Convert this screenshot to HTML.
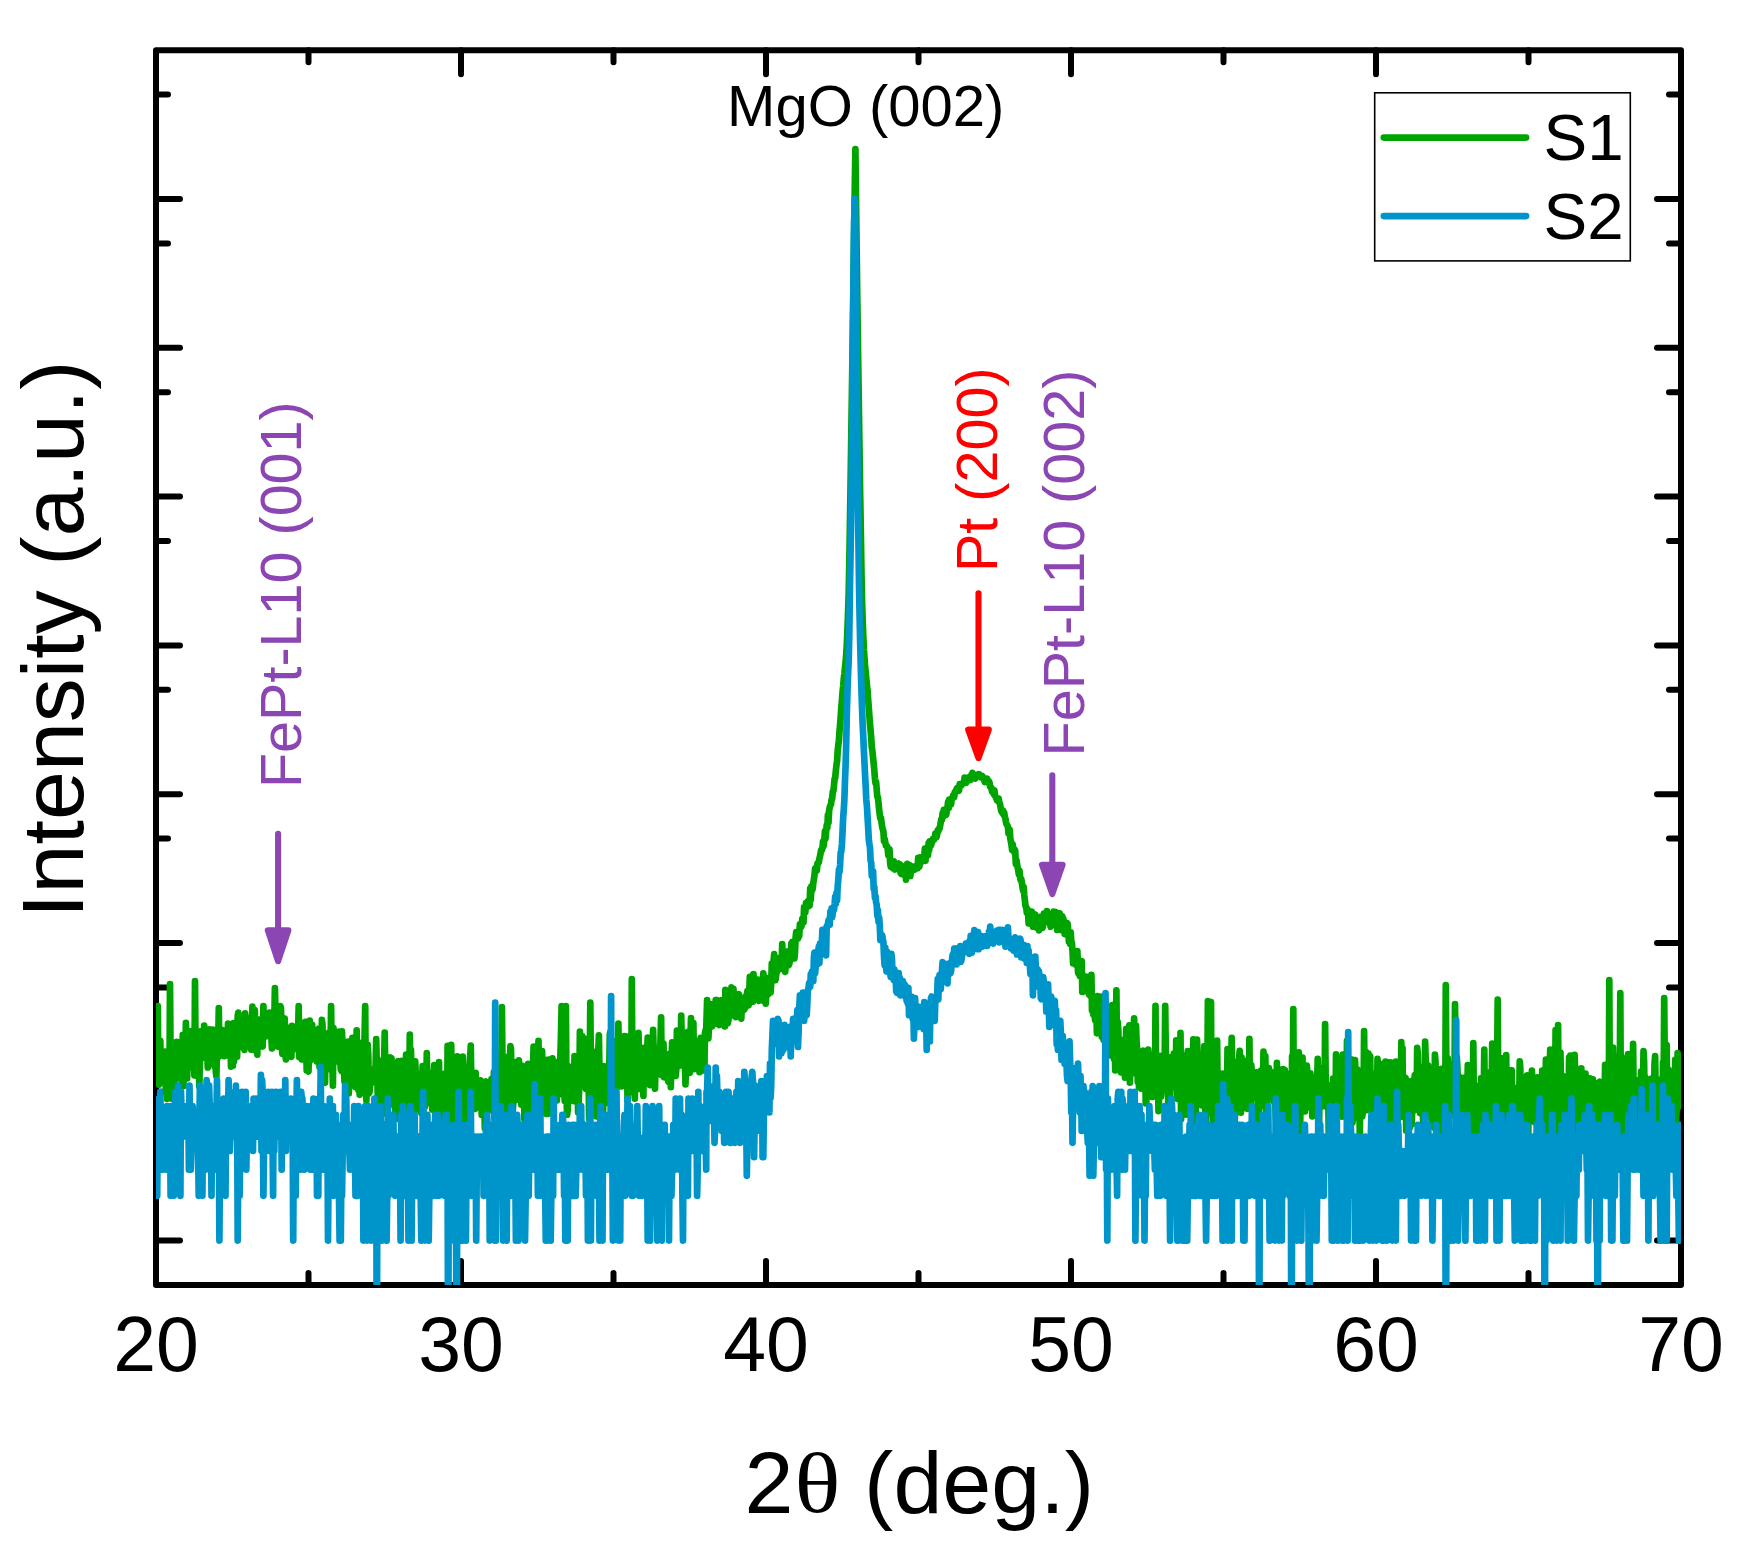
<!DOCTYPE html>
<html><head><meta charset="utf-8"><title>XRD</title>
<style>
html,body{margin:0;padding:0;background:#fff;}
svg{display:block;}
text{font-family:"Liberation Sans",sans-serif;}
.ser{font-family:"Liberation Serif",serif;}
</style></head><body>
<svg width="1754" height="1546" viewBox="0 0 1754 1546">
<rect width="1754" height="1546" fill="#fff"/>
<defs><clipPath id="cp"><rect x="156.0" y="50.2" width="1525.0" height="1234.8999999999999"/></clipPath></defs>

<g stroke="#000" stroke-width="6" stroke-linecap="round" stroke-linejoin="round" fill="none">
<rect x="156.0" y="50.2" width="1525.0" height="1234.8999999999999"/>
<path d="M308.5,1285.1 v-12 M308.5,50.2 v12"/>
<path d="M461.0,1285.1 v-24 M461.0,50.2 v24"/>
<path d="M613.5,1285.1 v-12 M613.5,50.2 v12"/>
<path d="M766.0,1285.1 v-24 M766.0,50.2 v24"/>
<path d="M918.5,1285.1 v-12 M918.5,50.2 v12"/>
<path d="M1071.0,1285.1 v-24 M1071.0,50.2 v24"/>
<path d="M1223.5,1285.1 v-12 M1223.5,50.2 v12"/>
<path d="M1376.0,1285.1 v-24 M1376.0,50.2 v24"/>
<path d="M1528.5,1285.1 v-12 M1528.5,50.2 v12"/>
<path d="M156.0,1240.6 h24 M1681.0,1240.6 h-24"/>
<path d="M156.0,1136.2 h12 M1681.0,1136.2 h-12"/>
<path d="M156.0,1091.8 h24 M1681.0,1091.8 h-24"/>
<path d="M156.0,987.4 h12 M1681.0,987.4 h-12"/>
<path d="M156.0,943.0 h24 M1681.0,943.0 h-24"/>
<path d="M156.0,838.6 h12 M1681.0,838.6 h-12"/>
<path d="M156.0,794.2 h24 M1681.0,794.2 h-24"/>
<path d="M156.0,689.8 h12 M1681.0,689.8 h-12"/>
<path d="M156.0,645.4 h24 M1681.0,645.4 h-24"/>
<path d="M156.0,541.0 h12 M1681.0,541.0 h-12"/>
<path d="M156.0,496.6 h24 M1681.0,496.6 h-24"/>
<path d="M156.0,392.2 h12 M1681.0,392.2 h-12"/>
<path d="M156.0,347.8 h24 M1681.0,347.8 h-24"/>
<path d="M156.0,243.4 h12 M1681.0,243.4 h-12"/>
<path d="M156.0,199.0 h24 M1681.0,199.0 h-24"/>
<path d="M156.0,94.6 h12 M1681.0,94.6 h-12"/>
</g>
<g clip-path="url(#cp)" fill="none" stroke-width="6.7" stroke-linejoin="round" stroke-linecap="round">
<path stroke="#00a400" d="M156.0,1067.0 156.6,1061.2 157.2,1071.8 157.8,1006.0 158.4,1074.9 159.0,1084.7 159.7,1064.9 160.3,1040.8 160.9,1074.8 161.5,1077.0 162.1,1056.2 162.7,1058.5 163.3,1063.0 163.9,1082.0 164.5,1065.1 165.1,1051.6 165.8,1089.1 166.4,1072.5 167.0,1098.9 167.6,1087.4 168.2,1097.3 168.8,1067.7 169.4,1086.4 170.0,984.1 170.6,1059.9 171.2,1066.0 171.9,1098.8 172.5,1072.0 173.1,1062.9 173.7,1059.8 174.3,1089.3 174.9,1070.1 175.5,1078.9 176.1,1075.6 176.7,1041.8 177.3,1075.2 178.0,1061.1 178.6,1044.5 179.2,1070.5 179.8,1061.9 180.4,1057.7 181.0,1058.4 181.6,1081.1 182.2,1057.8 182.8,1034.9 183.4,1086.1 184.1,1043.3 184.7,1056.2 185.3,1069.4 185.9,1022.8 186.5,1044.3 187.1,1078.5 187.7,1056.0 188.3,1047.0 188.9,1060.1 189.5,1044.8 190.2,1057.6 190.8,1044.6 191.4,1031.1 192.0,1067.5 192.6,1052.1 193.2,1063.3 193.8,1053.0 194.4,1075.3 195.0,981.1 195.6,1057.8 196.3,1038.9 196.9,1034.5 197.5,1076.3 198.1,1067.1 198.7,1042.4 199.3,1086.8 199.9,1060.7 200.5,1054.3 201.1,1031.2 201.7,1040.5 202.4,1057.3 203.0,1057.7 203.6,1055.5 204.2,1025.6 204.8,1057.8 205.4,1055.5 206.0,1044.3 206.6,1051.8 207.2,1052.8 207.8,1067.5 208.5,1049.1 209.1,1055.8 209.7,1029.3 210.3,1037.3 210.9,1048.0 211.5,1036.5 212.1,1052.5 212.7,1029.7 213.3,1046.4 213.9,1036.7 214.6,1066.3 215.2,1039.8 215.8,1071.9 216.4,1076.4 217.0,1049.2 217.6,1058.2 218.2,1041.1 218.8,1008.1 219.4,1056.0 220.0,1052.4 220.7,1039.1 221.3,1034.3 221.9,1044.4 222.5,1044.5 223.1,1030.2 223.7,1032.7 224.3,1056.2 224.9,1041.2 225.5,1039.2 226.1,1055.4 226.8,1035.1 227.4,1051.7 228.0,1023.7 228.6,1035.2 229.2,1036.5 229.8,1046.4 230.4,1039.0 231.0,1066.7 231.6,1053.4 232.2,1030.9 232.9,1065.7 233.5,1023.2 234.1,1061.2 234.7,1024.0 235.3,1047.3 235.9,1023.2 236.5,1032.5 237.1,1056.6 237.7,1015.7 238.3,1012.6 239.0,1034.4 239.6,1037.1 240.2,1035.3 240.8,1046.8 241.4,1016.7 242.0,1040.1 242.6,1032.8 243.2,1043.3 243.8,1040.7 244.4,1049.9 245.1,1013.4 245.7,1033.4 246.3,1017.3 246.9,1030.7 247.5,1040.7 248.1,1035.3 248.7,1038.5 249.3,1030.3 249.9,1035.7 250.5,1034.5 251.2,1049.7 251.8,1041.5 252.4,1006.6 253.0,1039.5 253.6,1044.9 254.2,1025.1 254.8,1010.0 255.4,1050.4 256.0,1032.7 256.6,1038.7 257.3,1054.6 257.9,1019.3 258.5,1029.9 259.1,1028.6 259.7,1040.2 260.3,1023.1 260.9,1037.1 261.5,1031.4 262.1,1045.0 262.7,1046.5 263.4,1006.0 264.0,1036.4 264.6,1025.2 265.2,1029.7 265.8,1035.4 266.4,1036.3 267.0,1020.3 267.6,1033.4 268.2,1031.2 268.8,1028.8 269.5,1012.5 270.1,1019.5 270.7,1023.7 271.3,1037.0 271.9,1048.4 272.5,1015.7 273.1,1015.4 273.7,1031.0 274.3,1021.4 274.9,988.1 275.6,1017.3 276.2,1016.1 276.8,1035.5 277.4,1007.8 278.0,1046.7 278.6,1017.1 279.2,1022.4 279.8,1017.1 280.4,1006.0 281.0,1008.7 281.7,1045.9 282.3,1053.8 282.9,1018.5 283.5,1044.6 284.1,1030.5 284.7,1018.6 285.3,1054.1 285.9,1059.4 286.5,1027.4 287.1,1030.7 287.8,1035.1 288.4,1031.2 289.0,1044.4 289.6,1054.0 290.2,1034.9 290.8,1046.8 291.4,1056.8 292.0,1025.9 292.6,1034.4 293.2,1027.8 293.9,1048.4 294.5,1043.9 295.1,1049.2 295.7,1047.8 296.3,1032.2 296.9,1046.9 297.5,1030.4 298.1,1030.9 298.7,1006.2 299.3,1057.2 300.0,1023.6 300.6,1038.4 301.2,1037.6 301.8,1059.4 302.4,1044.9 303.0,1027.0 303.6,1039.7 304.2,1037.5 304.8,1043.5 305.4,1021.8 306.1,1039.9 306.7,1070.4 307.3,1050.7 307.9,1070.6 308.5,1071.4 309.1,1049.1 309.7,1020.6 310.3,1040.8 310.9,1060.0 311.5,1056.8 312.2,1024.8 312.8,1040.3 313.4,1042.3 314.0,1044.2 314.6,1043.1 315.2,1031.3 315.8,1035.7 316.4,1041.3 317.0,1061.7 317.6,1037.3 318.3,1056.7 318.9,1028.6 319.5,1066.9 320.1,1049.1 320.7,1047.3 321.3,1069.1 321.9,1019.9 322.5,1024.5 323.1,1056.3 323.7,1036.4 324.4,1043.2 325.0,1082.8 325.6,1046.0 326.2,1051.6 326.8,1049.5 327.4,1069.3 328.0,1056.2 328.6,1055.0 329.2,1032.4 329.8,1047.1 330.5,1053.3 331.1,1006.0 331.7,1063.4 332.3,1060.9 332.9,1085.7 333.5,1028.1 334.1,1038.8 334.7,1039.9 335.3,1044.5 335.9,1054.5 336.6,1053.0 337.2,1061.5 337.8,1061.0 338.4,1056.9 339.0,1031.6 339.6,1048.7 340.2,1059.9 340.8,1069.5 341.4,1070.9 342.0,1031.4 342.7,1051.3 343.3,1059.5 343.9,1067.3 344.5,1081.5 345.1,1063.0 345.7,1046.3 346.3,1069.7 346.9,1067.1 347.5,1067.4 348.1,1041.7 348.8,1093.5 349.4,1068.8 350.0,1080.7 350.6,1048.8 351.2,1080.0 351.8,1055.2 352.4,1037.8 353.0,1072.6 353.6,1078.5 354.2,1063.9 354.9,1067.9 355.5,1087.1 356.1,1059.8 356.7,1030.4 357.3,1074.2 357.9,1073.5 358.5,1090.1 359.1,1064.1 359.7,1094.8 360.3,1092.5 361.0,1046.3 361.6,1089.3 362.2,1050.7 362.8,1042.3 363.4,1067.4 364.0,1061.9 364.6,1034.5 365.2,1006.1 365.8,1085.4 366.4,1100.7 367.1,1073.3 367.7,1044.8 368.3,1055.4 368.9,1093.6 369.5,1092.1 370.1,1085.3 370.7,1069.5 371.3,1079.7 371.9,1071.5 372.5,1070.0 373.2,1082.2 373.8,1077.2 374.4,1072.4 375.0,1078.5 375.6,1066.7 376.2,1039.0 376.8,1065.2 377.4,1076.4 378.0,1112.2 378.6,1069.9 379.3,1118.0 379.9,1107.2 380.5,1060.8 381.1,1064.0 381.7,1081.8 382.3,1114.2 382.9,1086.7 383.5,1093.2 384.1,1066.1 384.7,1032.6 385.4,1075.1 386.0,1096.0 386.6,1104.3 387.2,1081.2 387.8,1083.9 388.4,1104.4 389.0,1078.0 389.6,1104.7 390.2,1057.4 390.8,1058.6 391.5,1058.2 392.1,1091.1 392.7,1070.4 393.3,1084.2 393.9,1089.7 394.5,1088.8 395.1,1109.2 395.7,1112.4 396.3,1065.1 396.9,1086.1 397.6,1077.6 398.2,1061.0 398.8,1119.1 399.4,1099.1 400.0,1078.8 400.6,1074.3 401.2,1090.8 401.8,1060.9 402.4,1078.4 403.0,1108.9 403.7,1103.0 404.3,1066.0 404.9,1073.3 405.5,1124.0 406.1,1054.6 406.7,1070.7 407.3,1054.8 407.9,1091.9 408.5,1090.1 409.1,1108.0 409.8,1034.5 410.4,1087.8 411.0,1049.9 411.6,1098.1 412.2,1080.7 412.8,1120.3 413.4,1092.6 414.0,1063.2 414.6,1111.5 415.2,1061.4 415.9,1077.4 416.5,1107.3 417.1,1095.6 417.7,1094.8 418.3,1086.0 418.9,1096.6 419.5,1103.0 420.1,1091.7 420.7,1107.4 421.3,1113.2 422.0,1086.3 422.6,1066.2 423.2,1118.6 423.8,1085.4 424.4,1099.6 425.0,1106.8 425.6,1067.0 426.2,1096.9 426.8,1053.1 427.4,1102.7 428.1,1077.3 428.7,1090.8 429.3,1102.3 429.9,1073.1 430.5,1089.3 431.1,1072.8 431.7,1087.0 432.3,1109.7 432.9,1088.3 433.5,1084.9 434.2,1065.2 434.8,1105.9 435.4,1087.0 436.0,1123.8 436.6,1072.0 437.2,1109.9 437.8,1125.8 438.4,1087.6 439.0,1062.1 439.6,1119.7 440.3,1110.2 440.9,1102.7 441.5,1111.2 442.1,1078.2 442.7,1104.2 443.3,1102.3 443.9,1073.8 444.5,1103.1 445.1,1077.1 445.7,1107.9 446.4,1113.2 447.0,1126.9 447.6,1045.8 448.2,1093.7 448.8,1081.4 449.4,1087.4 450.0,1083.3 450.6,1085.7 451.2,1044.9 451.8,1109.6 452.5,1121.1 453.1,1109.1 453.7,1116.2 454.3,1070.5 454.9,1068.9 455.5,1108.0 456.1,1117.5 456.7,1094.7 457.3,1056.4 457.9,1130.9 458.6,1075.4 459.2,1110.6 459.8,1064.1 460.4,1110.7 461.0,1093.3 461.6,1120.1 462.2,1108.5 462.8,1056.5 463.4,1068.9 464.0,1095.8 464.7,1106.1 465.3,1128.6 465.9,1095.6 466.5,1087.6 467.1,1088.8 467.7,1088.9 468.3,1111.5 468.9,1088.3 469.5,1087.6 470.1,1058.4 470.8,1045.7 471.4,1089.6 472.0,1103.4 472.6,1087.9 473.2,1099.7 473.8,1102.6 474.4,1087.6 475.0,1109.0 475.6,1072.9 476.2,1088.3 476.9,1080.5 477.5,1089.9 478.1,1101.7 478.7,1106.4 479.3,1090.9 479.9,1097.6 480.5,1080.4 481.1,1085.5 481.7,1115.0 482.3,1083.8 483.0,1114.3 483.6,1098.5 484.2,1091.4 484.8,1128.3 485.4,1082.9 486.0,1081.6 486.6,1088.2 487.2,1093.8 487.8,1092.7 488.4,1105.6 489.1,1090.3 489.7,1096.3 490.3,1082.4 490.9,1110.2 491.5,1079.2 492.1,1081.1 492.7,1087.2 493.3,1093.5 493.9,1072.2 494.5,1119.8 495.2,1074.1 495.8,1078.7 496.4,1077.8 497.0,1075.7 497.6,1097.9 498.2,1089.4 498.8,1070.2 499.4,1074.6 500.0,1079.4 500.6,1116.3 501.3,1072.2 501.9,1007.1 502.5,1062.1 503.1,1078.7 503.7,1117.1 504.3,1063.4 504.9,1086.8 505.5,1126.5 506.1,1075.5 506.7,1115.5 507.4,1111.3 508.0,1097.1 508.6,1056.3 509.2,1091.5 509.8,1077.7 510.4,1046.1 511.0,1049.3 511.6,1085.7 512.2,1088.6 512.8,1110.4 513.5,1098.3 514.1,1074.3 514.7,1074.9 515.3,1081.0 515.9,1062.1 516.5,1099.8 517.1,1084.5 517.7,1067.7 518.3,1070.8 518.9,1060.4 519.6,1074.7 520.2,1089.8 520.8,1075.5 521.4,1104.6 522.0,1065.5 522.6,1070.7 523.2,1084.3 523.8,1076.5 524.4,1119.3 525.0,1090.8 525.7,1095.8 526.3,1101.4 526.9,1125.6 527.5,1090.1 528.1,1063.8 528.7,1074.8 529.3,1095.7 529.9,1083.1 530.5,1066.7 531.1,1125.3 531.8,1085.4 532.4,1071.1 533.0,1068.1 533.6,1046.5 534.2,1058.5 534.8,1075.9 535.4,1076.1 536.0,1065.8 536.6,1093.9 537.2,1083.3 537.9,1063.1 538.5,1040.8 539.1,1085.7 539.7,1083.3 540.3,1078.0 540.9,1053.7 541.5,1082.8 542.1,1051.0 542.7,1102.5 543.3,1086.0 544.0,1086.2 544.6,1065.3 545.2,1059.8 545.8,1113.8 546.4,1101.2 547.0,1074.7 547.6,1095.6 548.2,1113.8 548.8,1059.7 549.4,1071.2 550.1,1071.2 550.7,1091.5 551.3,1059.8 551.9,1086.5 552.5,1058.3 553.1,1100.5 553.7,1099.3 554.3,1076.9 554.9,1096.0 555.5,1067.0 556.2,1075.6 556.8,1100.5 557.4,1079.5 558.0,1088.3 558.6,1061.7 559.2,1094.2 559.8,1090.0 560.4,1055.4 561.0,1033.8 561.6,1006.0 562.3,1079.3 562.9,1076.0 563.5,1048.5 564.1,1083.1 564.7,1100.9 565.3,1078.0 565.9,1006.0 566.5,1097.7 567.1,1114.7 567.7,1110.2 568.4,1066.3 569.0,1096.0 569.6,1083.1 570.2,1075.6 570.8,1067.1 571.4,1086.9 572.0,1069.5 572.6,1098.4 573.2,1087.3 573.8,1101.1 574.5,1056.2 575.1,1080.2 575.7,1094.9 576.3,1086.9 576.9,1084.1 577.5,1064.9 578.1,1112.4 578.7,1100.8 579.3,1087.1 579.9,1031.5 580.6,1059.3 581.2,1081.3 581.8,1064.2 582.4,1036.4 583.0,1083.6 583.6,1086.3 584.2,1053.7 584.8,1068.4 585.4,1064.7 586.0,1088.9 586.7,1038.8 587.3,1043.1 587.9,1066.5 588.5,1064.0 589.1,1119.0 589.7,1064.8 590.3,1002.7 590.9,1068.8 591.5,1063.5 592.1,1084.3 592.8,1111.6 593.4,1069.5 594.0,1091.9 594.6,1083.3 595.2,1088.7 595.8,1083.1 596.4,1116.4 597.0,1051.2 597.6,1070.4 598.2,1052.9 598.9,1035.3 599.5,1074.3 600.1,1110.5 600.7,1092.1 601.3,1098.0 601.9,1083.7 602.5,1071.8 603.1,1112.7 603.7,1066.1 604.3,1102.3 605.0,1066.4 605.6,1074.1 606.2,1077.8 606.8,1072.8 607.4,1081.6 608.0,1082.7 608.6,1103.1 609.2,1070.8 609.8,1034.4 610.4,1031.6 611.1,1044.0 611.7,1055.6 612.3,1081.8 612.9,1041.1 613.5,1069.4 614.1,1069.4 614.7,1073.4 615.3,1065.8 615.9,1075.6 616.5,1068.7 617.2,1087.3 617.8,1073.7 618.4,1023.7 619.0,1067.6 619.6,1070.6 620.2,1056.0 620.8,1052.6 621.4,1086.4 622.0,1069.3 622.6,1048.2 623.3,1060.1 623.9,1062.7 624.5,1036.0 625.1,1077.2 625.7,1062.9 626.3,1073.9 626.9,1036.7 627.5,1100.0 628.1,1076.2 628.7,1073.4 629.4,1051.4 630.0,1052.3 630.6,1037.7 631.2,1091.9 631.8,979.1 632.4,1068.2 633.0,1074.8 633.6,1052.7 634.2,1079.2 634.8,1098.6 635.5,1068.9 636.1,1089.2 636.7,1073.7 637.3,1055.0 637.9,1056.0 638.5,1032.8 639.1,1065.0 639.7,1088.9 640.3,1074.8 640.9,1077.6 641.6,1082.8 642.2,1053.0 642.8,1072.2 643.4,1096.0 644.0,1047.9 644.6,1062.3 645.2,1053.8 645.8,1058.2 646.4,1048.7 647.0,1059.2 647.7,1037.7 648.3,1052.1 648.9,1052.6 649.5,1052.1 650.1,1085.2 650.7,1062.1 651.3,1063.7 651.9,1055.3 652.5,1083.0 653.1,1029.9 653.8,1056.9 654.4,1080.0 655.0,1088.7 655.6,1063.4 656.2,1059.9 656.8,1070.9 657.4,1056.5 658.0,1069.3 658.6,1048.3 659.2,1070.6 659.9,1058.5 660.5,1040.5 661.1,1017.3 661.7,1075.2 662.3,1065.6 662.9,1072.1 663.5,1043.6 664.1,1077.3 664.7,1065.6 665.3,1057.6 666.0,1074.0 666.6,1073.6 667.2,1065.1 667.8,1075.6 668.4,1081.8 669.0,1063.7 669.6,1053.9 670.2,1059.6 670.8,1087.1 671.4,1064.3 672.1,1042.3 672.7,1046.5 673.3,1057.4 673.9,1071.3 674.5,1045.0 675.1,1065.8 675.7,1075.9 676.3,1069.5 676.9,1030.6 677.5,1051.7 678.2,1035.5 678.8,1063.6 679.4,1039.1 680.0,1065.6 680.6,1057.9 681.2,1015.5 681.8,1041.8 682.4,1063.5 683.0,1056.3 683.6,1049.2 684.3,1034.0 684.9,1063.0 685.5,1084.4 686.1,1059.3 686.7,1054.1 687.3,1052.5 687.9,1031.8 688.5,1034.2 689.1,1040.2 689.7,1072.8 690.4,1039.2 691.0,1018.2 691.6,1040.7 692.2,1049.4 692.8,1051.0 693.4,1023.2 694.0,1069.2 694.6,1055.3 695.2,1045.5 695.8,1040.7 696.5,1060.6 697.1,1047.9 697.7,1057.8 698.3,1050.9 698.9,1055.1 699.5,1072.1 700.1,1053.1 700.7,1037.9 701.3,1068.9 701.9,1056.6 702.6,1041.3 703.2,1070.4 703.8,1049.3 704.4,1070.1 705.0,1033.1 705.6,1030.0 706.2,1030.0 706.5,1020.5 707.1,1000.0 707.7,1012.9 708.4,1038.3 709.0,1025.4 709.6,1007.6 710.2,1014.9 710.8,1020.9 711.4,1004.3 712.0,1026.3 712.6,1011.1 713.2,1019.5 713.8,1023.0 714.5,1008.1 715.1,1023.9 715.7,1000.0 716.3,1018.6 716.9,1000.0 717.5,1023.4 718.1,1004.5 718.7,1023.8 719.3,1025.0 719.9,1008.3 720.6,1002.4 721.2,1023.1 721.8,1000.0 722.4,1017.2 723.0,1006.9 723.6,1003.9 724.2,1001.3 724.8,1026.4 725.4,989.8 726.0,1000.7 726.7,1010.7 727.3,1016.7 727.9,1023.3 728.5,1019.5 729.1,999.2 729.7,1008.1 730.3,1016.0 730.9,1009.4 731.5,987.4 732.1,989.5 732.8,1008.9 733.4,988.8 734.0,997.6 734.6,1001.5 735.2,1007.8 735.8,1017.1 736.4,1012.9 737.0,1005.6 737.6,1002.6 738.2,996.5 738.9,994.3 739.5,997.3 740.1,997.1 740.7,1009.0 741.3,1018.6 741.9,1003.6 742.5,1007.6 743.1,1004.3 743.7,1000.3 744.3,1009.6 745.0,1008.0 745.6,997.8 746.2,995.4 746.8,1002.7 747.4,991.2 748.0,997.9 748.6,1005.4 749.2,994.9 749.8,976.8 750.4,1001.3 751.1,983.3 751.7,981.0 752.3,979.6 752.9,1001.6 753.5,974.2 754.1,992.1 754.7,995.3 755.3,994.9 755.9,986.7 756.5,991.6 757.2,993.5 757.8,979.5 758.4,998.1 759.0,1000.8 759.6,983.3 760.2,984.0 760.8,980.1 761.4,1000.1 762.0,980.0 762.6,985.4 763.3,973.4 763.9,1001.1 764.5,987.4 765.1,991.8 765.7,1003.7 766.3,995.4 766.9,978.2 767.5,992.5 768.1,994.4 768.7,979.4 769.4,977.9 770.0,977.3 770.6,992.6 771.2,984.1 771.8,963.5 772.4,974.4 773.0,974.0 773.6,960.7 774.2,954.2 774.8,974.4 775.5,980.2 776.1,975.4 776.7,971.5 777.3,964.5 777.9,958.4 778.5,963.8 779.1,967.7 779.7,961.1 780.3,969.2 780.9,962.1 781.6,966.3 782.2,944.2 782.8,955.0 783.4,967.0 784.0,967.9 784.6,963.3 785.2,971.8 785.8,964.5 786.4,964.0 787.0,951.5 787.7,960.3 788.3,962.1 788.9,965.1 789.5,962.9 790.1,954.1 790.7,954.1 791.3,943.6 791.9,954.6 792.5,941.9 793.1,946.1 793.8,946.6 794.4,958.4 795.0,952.3 795.6,937.7 796.2,932.1 796.8,938.2 797.4,933.2 798.0,938.6 798.6,936.4 799.2,936.1 799.9,924.3 800.5,925.9 801.1,927.1 801.7,925.5 802.3,918.6 802.9,918.0 803.5,922.3 804.1,907.1 804.7,913.0 805.3,912.4 806.0,903.1 806.6,903.4 807.2,906.6 807.8,901.3 808.4,906.5 809.0,902.0 809.6,905.6 810.2,888.7 810.8,899.9 811.4,886.4 812.1,890.4 812.7,888.6 813.3,883.0 813.9,878.9 814.5,875.2 815.1,868.5 815.7,871.6 816.3,867.3 816.9,870.4 817.5,863.3 818.2,862.8 818.8,862.5 819.4,858.8 820.0,856.3 820.6,853.0 821.2,849.9 821.8,850.3 822.4,848.5 823.0,841.5 823.6,846.1 824.3,840.2 824.9,831.4 825.5,838.4 826.1,831.9 826.7,825.2 827.3,828.2 827.9,815.1 828.5,822.5 829.1,810.9 829.7,807.3 830.4,805.4 831.0,804.4 831.6,799.5 832.2,798.5 832.8,791.3 833.4,791.2 834.0,785.5 834.6,778.7 835.2,777.9 835.8,771.4 836.5,764.8 837.1,761.0 837.7,750.6 838.3,745.2 838.9,740.7 839.5,731.3 840.1,724.5 840.7,716.4 841.3,707.7 841.9,700.7 842.6,691.6 843.2,686.1 843.8,678.5 844.4,673.8 845.0,667.5 845.6,662.2 846.2,654.5 846.8,645.2 847.4,631.1 848.0,614.3 848.7,593.2 849.3,563.3 849.9,526.4 850.5,488.5 851.1,448.0 851.7,406.4 852.3,366.1 852.9,326.0 853.5,282.7 854.1,235.3 854.8,186.4 855.4,149.0 856.0,198.1 856.6,245.5 857.2,292.4 857.8,334.8 858.4,374.7 859.0,415.3 859.6,456.4 860.2,496.8 860.9,536.6 861.5,575.1 862.1,602.3 862.7,621.5 863.3,636.5 863.9,649.5 864.5,657.9 865.1,666.7 865.7,672.1 866.3,678.5 867.0,685.6 867.6,691.1 868.2,700.2 868.8,707.9 869.4,716.2 870.0,724.4 870.6,730.5 871.2,737.5 871.8,747.7 872.4,751.0 873.1,758.2 873.7,763.6 874.3,770.1 874.9,778.3 875.5,783.1 876.1,782.0 876.7,789.3 877.3,796.8 877.9,797.2 878.5,802.8 879.2,810.2 879.8,814.9 880.4,818.4 881.0,818.1 881.6,822.9 882.2,827.2 882.8,829.2 883.4,831.3 884.0,841.1 884.6,838.7 885.3,842.3 885.9,845.6 886.5,845.6 887.1,846.3 887.7,848.9 888.3,855.2 888.9,854.9 889.5,849.4 890.1,862.2 890.7,866.6 891.4,861.6 892.0,861.4 892.6,862.4 893.2,868.4 893.8,861.3 894.4,868.0 895.0,869.5 895.6,867.9 896.2,866.4 896.8,863.7 897.5,864.2 898.1,866.7 898.7,863.5 899.3,866.8 899.9,864.2 900.5,872.8 901.1,873.8 901.7,865.8 902.3,874.2 902.9,870.8 903.6,870.6 904.2,872.6 904.8,873.0 905.4,866.6 906.0,879.6 906.6,869.1 907.2,863.9 907.8,872.4 908.4,872.4 909.0,869.4 909.7,865.1 910.3,876.0 910.9,870.8 911.5,871.4 912.1,868.1 912.7,869.0 913.3,866.6 913.9,869.9 914.5,867.5 915.1,869.4 915.8,868.7 916.4,866.1 917.0,865.3 917.6,868.2 918.2,857.9 918.8,863.1 919.4,866.7 920.0,857.4 920.6,863.1 921.2,858.1 921.9,859.1 922.5,857.5 923.1,857.0 923.7,858.7 924.3,855.8 924.9,848.5 925.5,860.8 926.1,853.2 926.7,851.2 927.3,855.0 928.0,855.0 928.6,843.0 929.2,849.9 929.8,841.3 930.4,845.1 931.0,845.5 931.6,843.2 932.2,841.6 932.8,838.9 933.4,840.0 934.1,839.7 934.7,838.3 935.3,833.6 935.9,833.7 936.5,837.3 937.1,834.7 937.7,830.4 938.3,831.3 938.9,829.0 939.5,828.8 940.2,825.3 940.8,821.9 941.4,818.9 942.0,819.8 942.6,813.2 943.2,817.0 943.8,809.9 944.4,811.7 945.0,811.6 945.6,812.6 946.3,814.7 946.9,809.1 947.5,807.1 948.1,801.9 948.7,808.0 949.3,799.5 949.9,803.0 950.5,799.7 951.1,804.4 951.7,798.7 952.4,798.7 953.0,795.5 953.6,795.7 954.2,797.2 954.8,792.0 955.4,791.5 956.0,790.8 956.6,789.0 957.2,787.9 957.8,789.3 958.5,791.0 959.1,790.2 959.7,784.1 960.3,784.5 960.9,784.9 961.5,785.2 962.1,783.6 962.7,783.0 963.3,783.1 963.9,783.3 964.6,777.5 965.2,780.6 965.8,781.7 966.4,782.5 967.0,781.0 967.6,778.0 968.2,777.6 968.8,779.0 969.4,778.2 970.0,778.6 970.7,779.8 971.3,775.2 971.9,776.6 972.5,772.9 973.1,778.1 973.7,776.8 974.3,774.8 974.9,776.6 975.5,778.5 976.1,777.6 976.8,775.6 977.4,775.2 978.0,776.0 978.6,774.1 979.2,774.3 979.8,775.7 980.4,776.5 981.0,777.3 981.6,776.2 982.2,775.9 982.9,777.9 983.5,777.6 984.1,779.5 984.7,782.0 985.3,781.8 985.9,779.1 986.5,780.3 987.1,778.7 987.7,782.1 988.3,781.3 989.0,781.3 989.6,782.9 990.2,787.0 990.8,787.4 991.4,787.9 992.0,791.4 992.6,789.7 993.2,789.9 993.8,794.1 994.4,790.2 995.1,796.0 995.7,796.9 996.3,798.1 996.9,800.2 997.5,799.0 998.1,801.0 998.7,798.6 999.3,802.2 999.9,803.6 1000.5,806.7 1001.2,810.9 1001.8,809.5 1002.4,812.9 1003.0,810.5 1003.6,814.6 1004.2,812.5 1004.8,816.7 1005.4,818.5 1006.0,822.1 1006.6,824.3 1007.3,825.3 1007.9,826.8 1008.5,833.5 1009.1,832.4 1009.7,829.6 1010.3,838.7 1010.9,841.4 1011.5,845.1 1012.1,849.8 1012.7,844.2 1013.4,850.2 1014.0,852.0 1014.6,849.5 1015.2,850.5 1015.8,863.9 1016.4,859.8 1017.0,863.9 1017.6,867.4 1018.2,869.7 1018.8,874.2 1019.5,870.5 1020.1,876.8 1020.7,880.3 1021.3,879.0 1021.9,882.9 1022.5,887.3 1023.1,890.6 1023.7,886.9 1024.3,895.1 1024.9,900.5 1025.6,906.7 1026.2,906.8 1026.8,912.6 1027.4,909.0 1028.0,910.1 1028.6,923.4 1029.2,914.4 1029.8,912.2 1030.4,915.7 1031.0,922.7 1031.7,911.7 1032.3,923.1 1032.9,926.7 1033.5,926.4 1034.1,921.0 1034.7,915.6 1035.3,914.6 1035.9,919.8 1036.5,927.4 1037.1,924.4 1037.8,925.7 1038.4,921.7 1039.0,930.3 1039.6,920.0 1040.2,917.0 1040.8,921.2 1041.4,917.8 1042.0,925.2 1042.6,927.9 1043.2,923.4 1043.9,913.6 1044.5,914.2 1045.1,922.1 1045.7,913.0 1046.3,921.2 1046.9,911.2 1047.5,916.7 1048.1,921.6 1048.7,914.9 1049.3,923.2 1050.0,924.1 1050.6,926.8 1051.2,917.6 1051.8,919.3 1052.4,919.5 1053.0,921.3 1053.6,911.5 1054.2,921.6 1054.8,923.4 1055.4,913.0 1056.1,912.3 1056.7,918.4 1057.3,930.0 1057.9,924.1 1058.5,917.8 1059.1,921.4 1059.7,913.4 1060.3,929.9 1060.9,919.0 1061.5,926.7 1062.2,916.3 1062.8,924.6 1063.4,918.9 1064.0,928.9 1064.6,933.8 1065.2,932.8 1065.8,930.8 1066.4,934.5 1067.0,923.0 1067.6,923.7 1068.3,931.8 1068.9,941.7 1069.5,938.2 1070.1,943.9 1070.7,932.4 1071.3,941.8 1071.9,942.7 1072.5,950.6 1073.1,963.4 1073.7,956.9 1074.4,961.3 1075.0,952.7 1075.6,956.5 1076.2,965.0 1076.8,963.9 1077.4,951.1 1078.0,972.1 1078.6,973.8 1079.2,970.3 1079.8,975.9 1080.5,975.6 1081.1,969.4 1081.7,961.1 1082.3,992.0 1082.9,978.7 1083.5,979.7 1084.1,982.2 1084.7,984.5 1085.3,987.3 1085.9,976.6 1086.6,991.3 1087.2,989.6 1087.8,989.8 1088.4,990.2 1089.0,994.2 1089.6,984.5 1090.2,995.6 1090.8,995.4 1091.4,974.9 1092.0,1010.4 1092.7,1010.4 1093.3,1014.5 1093.9,1003.4 1094.5,1014.6 1095.1,1020.2 1095.7,1007.8 1096.3,1006.3 1096.9,1033.3 1097.5,996.1 1098.1,1016.3 1098.8,1019.2 1099.4,1006.9 1100.0,1019.7 1100.6,1028.9 1101.2,996.5 1101.8,1036.8 1102.4,1026.0 1103.0,1015.4 1103.6,1040.0 1104.2,1028.9 1104.9,1023.6 1105.5,1000.3 1106.1,1051.7 1106.7,1020.5 1107.3,1041.7 1107.9,1025.3 1108.5,1028.1 1109.1,1042.2 1109.7,1033.7 1110.3,1055.5 1111.0,1041.1 1111.6,1024.0 1112.2,1005.2 1112.8,1031.0 1113.4,1041.1 1114.0,1058.9 1114.6,1027.1 1115.2,1070.4 1115.8,1057.6 1116.4,990.3 1117.1,1065.3 1117.7,1021.9 1118.3,1029.5 1118.9,1056.8 1119.5,1057.2 1120.1,1070.2 1120.7,1072.2 1121.3,1042.5 1121.9,1040.0 1122.5,1045.0 1123.2,1046.9 1123.8,1061.2 1124.4,1046.3 1125.0,1077.6 1125.6,1053.2 1126.2,1028.8 1126.8,1031.8 1127.4,1062.7 1128.0,1061.0 1128.6,1032.0 1129.3,1025.3 1129.9,1082.7 1130.5,1064.6 1131.1,1053.5 1131.7,1036.7 1132.3,1073.3 1132.9,1047.6 1133.5,1064.7 1134.1,1018.3 1134.7,1052.6 1135.4,1063.1 1136.0,1025.7 1136.6,1042.5 1137.2,1049.6 1137.8,1081.9 1138.4,1058.8 1139.0,1087.5 1139.6,1077.3 1140.2,1087.6 1140.8,1088.6 1141.5,1077.2 1142.1,1083.0 1142.7,1055.4 1143.3,1050.7 1143.9,1070.3 1144.5,1087.1 1145.1,1051.4 1145.7,1103.4 1146.3,1103.5 1146.9,1053.7 1147.6,1055.4 1148.2,1049.6 1148.8,1072.5 1149.4,1092.7 1150.0,1078.7 1150.6,1058.4 1151.2,1084.3 1151.8,1083.3 1152.4,1097.0 1153.0,1092.9 1153.7,1054.4 1154.3,1062.2 1154.9,1093.8 1155.5,1005.8 1156.1,1082.7 1156.7,1061.3 1157.3,1095.2 1157.9,1075.9 1158.5,1111.1 1159.1,1097.8 1159.8,1065.0 1160.4,1055.8 1161.0,1096.7 1161.6,1089.4 1162.2,1058.4 1162.8,1082.3 1163.4,1085.6 1164.0,1064.6 1164.6,1071.3 1165.2,1005.8 1165.9,1059.7 1166.5,1087.5 1167.1,1078.5 1167.7,1077.6 1168.3,1104.0 1168.9,1096.5 1169.5,1057.3 1170.1,1109.5 1170.7,1057.2 1171.3,1071.8 1172.0,1080.7 1172.6,1067.1 1173.2,1068.5 1173.8,1053.7 1174.4,1086.9 1175.0,1083.6 1175.6,1084.2 1176.2,1040.4 1176.8,1059.9 1177.4,1098.9 1178.1,1086.9 1178.7,1094.8 1179.3,1080.1 1179.9,1076.1 1180.5,1032.8 1181.1,1119.1 1181.7,1059.6 1182.3,1072.2 1182.9,1096.3 1183.5,1084.9 1184.2,1092.4 1184.8,1081.0 1185.4,1061.0 1186.0,1114.6 1186.6,1054.8 1187.2,1090.8 1187.8,1051.1 1188.4,1074.4 1189.0,1057.1 1189.6,1071.5 1190.3,1060.5 1190.9,1082.7 1191.5,1101.9 1192.1,1069.8 1192.7,1069.1 1193.3,1039.4 1193.9,1126.9 1194.5,1089.1 1195.1,1062.0 1195.7,1112.2 1196.4,1090.2 1197.0,1039.5 1197.6,1054.8 1198.2,1104.7 1198.8,1054.8 1199.4,1060.1 1200.0,1069.1 1200.6,1077.8 1201.2,1081.0 1201.8,1105.3 1202.5,1097.7 1203.1,1070.5 1203.7,1083.5 1204.3,1046.2 1204.9,1094.1 1205.5,1130.0 1206.1,1094.3 1206.7,1081.0 1207.3,1078.8 1207.9,1001.1 1208.6,1105.4 1209.2,1054.5 1209.8,1102.1 1210.4,1071.9 1211.0,1002.1 1211.6,1114.1 1212.2,1056.6 1212.8,1131.4 1213.4,1106.8 1214.0,1078.5 1214.7,1096.0 1215.3,1071.6 1215.9,1090.4 1216.5,1098.3 1217.1,1040.5 1217.7,1093.3 1218.3,1092.0 1218.9,1112.6 1219.5,1105.3 1220.1,1074.3 1220.8,1076.2 1221.4,1088.8 1222.0,1104.5 1222.6,1073.7 1223.2,1127.0 1223.8,1096.7 1224.4,1094.8 1225.0,1108.1 1225.6,1085.8 1226.2,1104.2 1226.9,1107.3 1227.5,1049.1 1228.1,1072.9 1228.7,1050.3 1229.3,1088.4 1229.9,1068.0 1230.5,1072.2 1231.1,1062.5 1231.7,1037.9 1232.3,1094.9 1233.0,1084.0 1233.6,1091.1 1234.2,1134.6 1234.8,1121.4 1235.4,1089.6 1236.0,1075.8 1236.6,1103.1 1237.2,1064.6 1237.8,1061.3 1238.4,1099.6 1239.1,1058.2 1239.7,1050.8 1240.3,1079.9 1240.9,1112.6 1241.5,1057.3 1242.1,1094.2 1242.7,1099.1 1243.3,1088.0 1243.9,1102.8 1244.5,1066.4 1245.2,1073.1 1245.8,1063.1 1246.4,1060.6 1247.0,1108.8 1247.6,1094.5 1248.2,1071.1 1248.8,1100.2 1249.4,1038.8 1250.0,1096.5 1250.6,1104.4 1251.3,1065.0 1251.9,1074.2 1252.5,1091.8 1253.1,1096.5 1253.7,1081.6 1254.3,1072.3 1254.9,1074.0 1255.5,1098.3 1256.1,1081.6 1256.7,1072.3 1257.4,1074.1 1258.0,1137.2 1258.6,1111.9 1259.2,1109.3 1259.8,1096.9 1260.4,1087.6 1261.0,1070.7 1261.6,1077.7 1262.2,1094.7 1262.8,1091.3 1263.5,1051.7 1264.1,1106.0 1264.7,1085.0 1265.3,1056.2 1265.9,1084.1 1266.5,1137.9 1267.1,1083.5 1267.7,1101.0 1268.3,1094.8 1268.9,1068.1 1269.6,1081.5 1270.2,1098.3 1270.8,1071.9 1271.4,1082.4 1272.0,1090.0 1272.6,1085.5 1273.2,1086.7 1273.8,1100.3 1274.4,1103.1 1275.0,1092.0 1275.7,1114.5 1276.3,1121.6 1276.9,1062.8 1277.5,1098.2 1278.1,1093.3 1278.7,1095.9 1279.3,1092.3 1279.9,1092.3 1280.5,1091.4 1281.1,1111.5 1281.8,1071.5 1282.4,1108.9 1283.0,1069.2 1283.6,1137.3 1284.2,1117.6 1284.8,1070.2 1285.4,1096.6 1286.0,1108.7 1286.6,1084.6 1287.2,1117.4 1287.9,1091.5 1288.5,1139.5 1289.1,1103.8 1289.7,1108.4 1290.3,1080.9 1290.9,1073.2 1291.5,1113.2 1292.1,1056.3 1292.7,1107.2 1293.3,1009.1 1294.0,1139.9 1294.6,1058.0 1295.2,1095.7 1295.8,1108.7 1296.4,1111.0 1297.0,1119.0 1297.6,1062.4 1298.2,1095.7 1298.8,1052.3 1299.4,1098.4 1300.1,1140.2 1300.7,1074.3 1301.3,1102.4 1301.9,1099.4 1302.5,1057.6 1303.1,1100.1 1303.7,1067.0 1304.3,1094.1 1304.9,1111.5 1305.5,1082.3 1306.2,1108.0 1306.8,1065.6 1307.4,1071.8 1308.0,1092.7 1308.6,1080.0 1309.2,1081.1 1309.8,1100.6 1310.4,1073.4 1311.0,1099.5 1311.6,1079.9 1312.3,1116.4 1312.9,1091.9 1313.5,1084.6 1314.1,1112.7 1314.7,1104.0 1315.3,1106.7 1315.9,1077.3 1316.5,1111.1 1317.1,1084.1 1317.7,1058.8 1318.4,1086.0 1319.0,1131.9 1319.6,1091.4 1320.2,1070.1 1320.8,1101.0 1321.4,1068.5 1322.0,1079.9 1322.6,1084.5 1323.2,1100.4 1323.8,1106.2 1324.5,1100.3 1325.1,1024.1 1325.7,1082.1 1326.3,1084.5 1326.9,1101.3 1327.5,1092.7 1328.1,1085.2 1328.7,1132.1 1329.3,1112.1 1329.9,1112.9 1330.6,1099.0 1331.2,1100.6 1331.8,1100.2 1332.4,1114.5 1333.0,1078.5 1333.6,1087.7 1334.2,1132.4 1334.8,1093.8 1335.4,1120.4 1336.0,1054.4 1336.7,1104.7 1337.3,1103.3 1337.9,1092.1 1338.5,1098.7 1339.1,1095.4 1339.7,1058.0 1340.3,1088.8 1340.9,1074.6 1341.5,1067.7 1342.1,1116.7 1342.8,1054.6 1343.4,1077.9 1344.0,1071.7 1344.6,1114.0 1345.2,1074.9 1345.8,1084.3 1346.4,1106.4 1347.0,1040.8 1347.6,1080.7 1348.2,1099.4 1348.9,1089.3 1349.5,1072.6 1350.1,1067.5 1350.7,1080.3 1351.3,1065.5 1351.9,1059.6 1352.5,1122.5 1353.1,1105.0 1353.7,1101.5 1354.3,1091.4 1355.0,1060.1 1355.6,1078.5 1356.2,1118.0 1356.8,1100.5 1357.4,1069.7 1358.0,1106.0 1358.6,1095.9 1359.2,1086.5 1359.8,1135.9 1360.4,1075.5 1361.1,1085.6 1361.7,1080.3 1362.3,1116.3 1362.9,1111.3 1363.5,1107.4 1364.1,1031.1 1364.7,1091.8 1365.3,1090.5 1365.9,1051.9 1366.5,1063.1 1367.2,1110.1 1367.8,1108.6 1368.4,1053.6 1369.0,1100.7 1369.6,1061.4 1370.2,1056.3 1370.8,1105.9 1371.4,1099.6 1372.0,1091.4 1372.6,1113.3 1373.3,1116.0 1373.9,1102.6 1374.5,1073.5 1375.1,1103.7 1375.7,1098.1 1376.3,1104.0 1376.9,1124.9 1377.5,1058.8 1378.1,1140.0 1378.7,1108.4 1379.4,1080.3 1380.0,1125.5 1380.6,1079.2 1381.2,1064.2 1381.8,1113.1 1382.4,1088.4 1383.0,1118.9 1383.6,1081.4 1384.2,1091.1 1384.8,1088.2 1385.5,1061.5 1386.1,1082.3 1386.7,1062.0 1387.3,1078.5 1387.9,1120.9 1388.5,1087.1 1389.1,1081.8 1389.7,1126.6 1390.3,1062.3 1390.9,1091.6 1391.6,1084.6 1392.2,1113.9 1392.8,1091.5 1393.4,1086.2 1394.0,1100.7 1394.6,1091.3 1395.2,1139.9 1395.8,1061.7 1396.4,1119.0 1397.0,1140.0 1397.7,1115.5 1398.3,1112.6 1398.9,1080.7 1399.5,1114.5 1400.1,1086.7 1400.7,1115.6 1401.3,1042.2 1401.9,1080.7 1402.5,1048.0 1403.1,1116.9 1403.8,1078.0 1404.4,1115.6 1405.0,1080.1 1405.6,1077.8 1406.2,1130.6 1406.8,1120.0 1407.4,1120.7 1408.0,1128.6 1408.6,1110.7 1409.2,1116.0 1409.9,1127.4 1410.5,1091.5 1411.1,1081.1 1411.7,1124.5 1412.3,1106.9 1412.9,1093.8 1413.5,1099.4 1414.1,1110.4 1414.7,1075.2 1415.3,1074.4 1416.0,1078.3 1416.6,1099.1 1417.2,1047.9 1417.8,1053.7 1418.4,1103.7 1419.0,1097.2 1419.6,1066.7 1420.2,1113.2 1420.8,1085.2 1421.4,1093.5 1422.1,1111.1 1422.7,1100.1 1423.3,1131.5 1423.9,1107.5 1424.5,1141.5 1425.1,1041.5 1425.7,1059.6 1426.3,1066.2 1426.9,1087.9 1427.5,1071.6 1428.2,1065.3 1428.8,1071.3 1429.4,1073.6 1430.0,1116.7 1430.6,1085.2 1431.2,1107.9 1431.8,1123.2 1432.4,1122.3 1433.0,1085.4 1433.6,1070.8 1434.3,1127.8 1434.9,1054.6 1435.5,1061.1 1436.1,1104.7 1436.7,1106.7 1437.3,1097.6 1437.9,1072.8 1438.5,1105.0 1439.1,1122.1 1439.7,1087.9 1440.4,1143.4 1441.0,1092.8 1441.6,1068.8 1442.2,1089.0 1442.8,1077.8 1443.4,1084.7 1444.0,1079.2 1444.6,1093.0 1445.2,1116.1 1445.8,985.1 1446.5,1098.3 1447.1,1066.8 1447.7,1058.1 1448.3,1086.7 1448.9,1114.6 1449.5,1114.1 1450.1,1101.2 1450.7,1063.9 1451.3,1088.9 1451.9,1098.2 1452.6,1115.1 1453.2,1076.0 1453.8,1090.1 1454.4,1098.2 1455.0,1004.1 1455.6,1057.0 1456.2,1100.9 1456.8,1057.0 1457.4,1067.6 1458.0,1096.0 1458.7,1076.2 1459.3,1100.2 1459.9,1117.1 1460.5,1103.7 1461.1,1119.0 1461.7,1085.2 1462.3,1097.1 1462.9,1084.0 1463.5,1077.8 1464.1,1145.3 1464.8,1090.2 1465.4,1140.7 1466.0,1093.7 1466.6,1081.6 1467.2,1095.3 1467.8,1065.1 1468.4,1138.7 1469.0,1069.8 1469.6,1099.8 1470.2,1143.3 1470.9,1082.5 1471.5,1097.2 1472.1,1110.3 1472.7,1115.4 1473.3,1043.0 1473.9,1107.6 1474.5,1141.4 1475.1,1120.6 1475.7,1107.1 1476.3,1107.6 1477.0,1100.3 1477.6,1123.6 1478.2,1085.5 1478.8,1110.1 1479.4,1131.3 1480.0,1118.2 1480.6,1107.9 1481.2,1078.2 1481.8,1087.0 1482.4,1106.9 1483.1,1098.3 1483.7,1093.6 1484.3,1049.7 1484.9,1113.8 1485.5,1087.7 1486.1,1081.4 1486.7,1122.0 1487.3,1094.5 1487.9,1095.1 1488.5,1110.5 1489.2,1085.4 1489.8,1074.3 1490.4,1071.9 1491.0,1103.9 1491.6,1094.7 1492.2,1043.6 1492.8,1126.0 1493.4,1094.0 1494.0,1077.8 1494.6,1095.8 1495.3,1083.6 1495.9,1095.3 1496.5,1081.2 1497.1,1068.4 1497.7,999.5 1498.3,1094.8 1498.9,1101.0 1499.5,1109.4 1500.1,1100.1 1500.7,1127.2 1501.4,1081.6 1502.0,1058.4 1502.6,1058.4 1503.2,1068.8 1503.8,1123.2 1504.4,1062.9 1505.0,1117.2 1505.6,1101.1 1506.2,1055.0 1506.8,1125.9 1507.5,1079.4 1508.1,1093.1 1508.7,1103.6 1509.3,1121.2 1509.9,1089.7 1510.5,1111.2 1511.1,1074.5 1511.7,1070.2 1512.3,1133.5 1512.9,1112.3 1513.6,1107.8 1514.2,1128.7 1514.8,1127.2 1515.4,1097.8 1516.0,1105.1 1516.6,1140.2 1517.2,1113.1 1517.8,1087.4 1518.4,1129.3 1519.0,1122.5 1519.7,1061.4 1520.3,1068.0 1520.9,1139.4 1521.5,1132.9 1522.1,1090.8 1522.7,1129.0 1523.3,1106.1 1523.9,1111.0 1524.5,1086.4 1525.1,1148.7 1525.8,1148.7 1526.4,1129.8 1527.0,1075.3 1527.6,1103.8 1528.2,1141.6 1528.8,1088.0 1529.4,1082.8 1530.0,1106.0 1530.6,1108.0 1531.2,1089.4 1531.9,1070.6 1532.5,1096.3 1533.1,1087.0 1533.7,1101.2 1534.3,1109.3 1534.9,1122.3 1535.5,1093.8 1536.1,1107.3 1536.7,1105.9 1537.3,1077.4 1538.0,1088.1 1538.6,1078.8 1539.2,1138.3 1539.8,1086.4 1540.4,1114.4 1541.0,1119.7 1541.6,1120.7 1542.2,1070.5 1542.8,1079.9 1543.4,1117.4 1544.1,1127.7 1544.7,1099.7 1545.3,1111.2 1545.9,1059.6 1546.5,1135.5 1547.1,1144.5 1547.7,1106.2 1548.3,1099.7 1548.9,1096.8 1549.5,1081.7 1550.2,1049.6 1550.8,1108.3 1551.4,1113.2 1552.0,1142.8 1552.6,1094.1 1553.2,1079.2 1553.8,1106.3 1554.4,1071.3 1555.0,1099.3 1555.6,1030.2 1556.3,1091.9 1556.9,1125.7 1557.5,1115.5 1558.1,1025.1 1558.7,1142.3 1559.3,1093.5 1559.9,1078.8 1560.5,1052.5 1561.1,1101.3 1561.7,1105.8 1562.4,1127.0 1563.0,1076.0 1563.6,1090.5 1564.2,1114.5 1564.8,1083.2 1565.4,1086.3 1566.0,1145.5 1566.6,1081.9 1567.2,1096.7 1567.8,1109.5 1568.5,1110.1 1569.1,1057.5 1569.7,1062.6 1570.3,1055.6 1570.9,1127.9 1571.5,1115.9 1572.1,1078.0 1572.7,1129.4 1573.3,1117.5 1573.9,1143.9 1574.6,1054.9 1575.2,1074.1 1575.8,1088.8 1576.4,1094.7 1577.0,1110.1 1577.6,1109.7 1578.2,1085.0 1578.8,1117.3 1579.4,1070.1 1580.0,1112.0 1580.7,1121.2 1581.3,1068.4 1581.9,1103.5 1582.5,1086.5 1583.1,1110.1 1583.7,1148.7 1584.3,1086.7 1584.9,1132.8 1585.5,1073.7 1586.1,1137.7 1586.8,1145.4 1587.4,1092.5 1588.0,1089.7 1588.6,1097.4 1589.2,1129.5 1589.8,1078.4 1590.4,1135.6 1591.0,1111.3 1591.6,1119.2 1592.2,1109.2 1592.9,1079.3 1593.5,1115.4 1594.1,1086.3 1594.7,1083.1 1595.3,1141.6 1595.9,1128.4 1596.5,1109.3 1597.1,1114.4 1597.7,1092.5 1598.3,1147.0 1599.0,1082.5 1599.6,1081.9 1600.2,1104.1 1600.8,1133.6 1601.4,1099.9 1602.0,1113.1 1602.6,1086.2 1603.2,1102.1 1603.8,1082.3 1604.4,1110.5 1605.1,1064.9 1605.7,1148.7 1606.3,1124.7 1606.9,1088.1 1607.5,1136.8 1608.1,1082.1 1608.7,1129.6 1609.3,980.1 1609.9,1122.3 1610.5,1110.7 1611.2,1095.8 1611.8,1102.5 1612.4,1109.3 1613.0,1047.6 1613.6,1099.8 1614.2,1123.6 1614.8,1077.4 1615.4,1080.0 1616.0,1070.2 1616.6,1056.5 1617.3,1122.8 1617.9,1074.2 1618.5,1072.2 1619.1,1099.9 1619.7,1094.0 1620.3,993.1 1620.9,1113.8 1621.5,1056.4 1622.1,1143.3 1622.7,1112.9 1623.4,1092.8 1624.0,1085.8 1624.6,1060.2 1625.2,1142.6 1625.8,1098.7 1626.4,1078.9 1627.0,1131.7 1627.6,1100.7 1628.2,1054.0 1628.8,1067.7 1629.5,1086.6 1630.1,1148.2 1630.7,1102.8 1631.3,1090.2 1631.9,1107.1 1632.5,1101.2 1633.1,1043.8 1633.7,1104.7 1634.3,1123.0 1634.9,1093.6 1635.6,1107.1 1636.2,1106.9 1636.8,1101.5 1637.4,1080.7 1638.0,1093.6 1638.6,1128.4 1639.2,1102.5 1639.8,1087.8 1640.4,1110.6 1641.0,1071.5 1641.7,1080.4 1642.3,1123.1 1642.9,1091.4 1643.5,1051.2 1644.1,1061.4 1644.7,1100.4 1645.3,1077.4 1645.9,1115.3 1646.5,1133.9 1647.1,1085.6 1647.8,1093.0 1648.4,1086.5 1649.0,1099.5 1649.6,1091.0 1650.2,1111.2 1650.8,1087.4 1651.4,1078.7 1652.0,1100.1 1652.6,1079.1 1653.2,1141.3 1653.9,1117.5 1654.5,1063.8 1655.1,1056.2 1655.7,1092.5 1656.3,1101.0 1656.9,1128.9 1657.5,1089.7 1658.1,1079.7 1658.7,1133.9 1659.3,1084.9 1660.0,1086.5 1660.6,1087.6 1661.2,1125.2 1661.8,1085.2 1662.4,1134.0 1663.0,1062.4 1663.6,1094.8 1664.2,998.1 1664.8,1065.8 1665.4,1070.3 1666.1,1113.5 1666.7,1045.1 1667.3,1121.9 1667.9,1090.3 1668.5,1069.5 1669.1,1145.5 1669.7,1073.8 1670.3,1099.2 1670.9,1098.0 1671.5,1123.3 1672.2,1089.6 1672.8,1124.0 1673.4,1120.6 1674.0,1108.1 1674.6,1126.7 1675.2,1059.9 1675.8,1129.0 1676.4,1115.3 1677.0,1104.8 1677.6,1053.1 1678.3,1078.3 1678.9,1077.7 1679.5,1104.3 1680.1,1106.2 1680.7,1096.2"/>
<path stroke="#0095ca" d="M156.0,1106.2 156.6,1136.6 157.2,1195.8 157.8,1114.8 158.4,1098.6 159.0,1114.8 159.7,1151.0 160.3,1091.8 160.9,1124.8 161.5,1169.6 162.1,1136.6 162.7,1169.6 163.3,1136.6 163.9,1124.8 164.5,1114.8 165.1,1151.0 165.8,1151.0 166.4,1169.6 167.0,1106.2 167.6,1169.6 168.2,1124.8 168.8,1151.0 169.4,1151.0 170.0,1114.8 170.6,1195.8 171.2,1106.2 171.9,1136.6 172.5,1124.8 173.1,1124.8 173.7,1195.8 174.3,1106.2 174.9,1151.0 175.5,1091.8 176.1,1169.6 176.7,1151.0 177.3,1151.0 178.0,1085.6 178.6,1106.2 179.2,1136.6 179.8,1169.6 180.4,1195.8 181.0,1091.8 181.6,1114.8 182.2,1114.8 182.8,1106.2 183.4,1124.8 184.1,1106.2 184.7,1124.8 185.3,1124.8 185.9,1136.6 186.5,1114.8 187.1,1136.6 187.7,1114.8 188.3,1106.2 188.9,1169.6 189.5,1085.6 190.2,1136.6 190.8,1169.6 191.4,1151.0 192.0,1136.6 192.6,1106.2 193.2,1114.8 193.8,1124.8 194.4,1124.8 195.0,1124.8 195.6,1136.6 196.3,1114.8 196.9,1136.6 197.5,1124.8 198.1,1151.0 198.7,1195.8 199.3,1124.8 199.9,1085.6 200.5,1136.6 201.1,1136.6 201.7,1106.2 202.4,1195.8 203.0,1124.8 203.6,1136.6 204.2,1136.6 204.8,1151.0 205.4,1169.6 206.0,1151.0 206.6,1080.0 207.2,1085.6 207.8,1124.8 208.5,1114.8 209.1,1085.6 209.7,1106.2 210.3,1124.8 210.9,1124.8 211.5,1195.8 212.1,1114.8 212.7,1151.0 213.3,1136.6 213.9,1106.2 214.6,1114.8 215.2,1106.2 215.8,1169.6 216.4,1114.8 217.0,1080.0 217.6,1151.0 218.2,1114.8 218.8,1114.8 219.4,1240.6 220.0,1151.0 220.7,1169.6 221.3,1136.6 221.9,1151.0 222.5,1136.6 223.1,1114.8 223.7,1098.6 224.3,1151.0 224.9,1106.2 225.5,1195.8 226.1,1114.8 226.8,1136.6 227.4,1136.6 228.0,1114.8 228.6,1080.0 229.2,1151.0 229.8,1151.0 230.4,1136.6 231.0,1114.8 231.6,1136.6 232.2,1136.6 232.9,1136.6 233.5,1124.8 234.1,1106.2 234.7,1091.8 235.3,1114.8 235.9,1085.6 236.5,1136.6 237.1,1098.6 237.7,1240.6 238.3,1136.6 239.0,1136.6 239.6,1195.8 240.2,1151.0 240.8,1114.8 241.4,1124.8 242.0,1091.8 242.6,1114.8 243.2,1136.6 243.8,1106.2 244.4,1136.6 245.1,1136.6 245.7,1091.8 246.3,1169.6 246.9,1136.6 247.5,1136.6 248.1,1136.6 248.7,1124.8 249.3,1124.8 249.9,1124.8 250.5,1124.8 251.2,1106.2 251.8,1124.8 252.4,1114.8 253.0,1151.0 253.6,1098.6 254.2,1124.8 254.8,1136.6 255.4,1136.6 256.0,1098.6 256.6,1136.6 257.3,1124.8 257.9,1106.2 258.5,1136.6 259.1,1098.6 259.7,1106.2 260.3,1136.6 260.9,1074.8 261.5,1151.0 262.1,1080.0 262.7,1091.8 263.4,1195.8 264.0,1151.0 264.6,1151.0 265.2,1098.6 265.8,1151.0 266.4,1114.8 267.0,1106.2 267.6,1136.6 268.2,1091.8 268.8,1124.8 269.5,1136.6 270.1,1151.0 270.7,1136.6 271.3,1114.8 271.9,1091.8 272.5,1136.6 273.1,1195.8 273.7,1098.6 274.3,1151.0 274.9,1106.2 275.6,1091.8 276.2,1091.8 276.8,1136.6 277.4,1136.6 278.0,1106.2 278.6,1106.2 279.2,1106.2 279.8,1106.2 280.4,1091.8 281.0,1091.8 281.7,1169.6 282.3,1091.8 282.9,1151.0 283.5,1114.8 284.1,1114.8 284.7,1114.8 285.3,1080.0 285.9,1151.0 286.5,1114.8 287.1,1124.8 287.8,1114.8 288.4,1136.6 289.0,1114.8 289.6,1106.2 290.2,1114.8 290.8,1098.6 291.4,1114.8 292.0,1136.6 292.6,1114.8 293.2,1240.6 293.9,1124.8 294.5,1124.8 295.1,1106.2 295.7,1195.8 296.3,1114.8 296.9,1080.0 297.5,1136.6 298.1,1106.2 298.7,1106.2 299.3,1114.8 300.0,1124.8 300.6,1169.6 301.2,1091.8 301.8,1098.6 302.4,1098.6 303.0,1136.6 303.6,1106.2 304.2,1169.6 304.8,1106.2 305.4,1136.6 306.1,1151.0 306.7,1106.2 307.3,1136.6 307.9,1151.0 308.5,1124.8 309.1,1124.8 309.7,1124.8 310.3,1169.6 310.9,1106.2 311.5,1169.6 312.2,1136.6 312.8,1169.6 313.4,1098.6 314.0,1124.8 314.6,1114.8 315.2,1124.8 315.8,1136.6 316.4,1114.8 317.0,1195.8 317.6,1151.0 318.3,1195.8 318.9,1098.6 319.5,1136.6 320.1,1124.8 320.7,1067.1 321.3,1136.6 321.9,1124.8 322.5,1124.8 323.1,1169.6 323.7,1106.2 324.4,1169.6 325.0,1169.6 325.6,1151.0 326.2,1169.6 326.8,1151.0 327.4,1124.8 328.0,1240.6 328.6,1169.6 329.2,1151.0 329.8,1098.6 330.5,1195.8 331.1,1169.6 331.7,1106.2 332.3,1151.0 332.9,1106.2 333.5,1195.8 334.1,1136.6 334.7,1151.0 335.3,1151.0 335.9,1114.8 336.6,1169.6 337.2,1151.0 337.8,1124.8 338.4,1169.6 339.0,1195.8 339.6,1240.6 340.2,1136.6 340.8,1240.6 341.4,1169.6 342.0,1195.8 342.7,1151.0 343.3,1114.8 343.9,1151.0 344.5,1136.6 345.1,1085.6 345.7,1151.0 346.3,1098.6 346.9,1151.0 347.5,1151.0 348.1,1136.6 348.8,1151.0 349.4,1151.0 350.0,1169.6 350.6,1151.0 351.2,1136.6 351.8,1124.8 352.4,1151.0 353.0,1151.0 353.6,1151.0 354.2,1106.2 354.9,1151.0 355.5,1195.8 356.1,1169.6 356.7,1169.6 357.3,1169.6 357.9,1195.8 358.5,1106.2 359.1,1124.8 359.7,1151.0 360.3,1151.0 361.0,1169.6 361.6,1136.6 362.2,1151.0 362.8,1124.8 363.4,1240.6 364.0,1195.8 364.6,1195.8 365.2,1106.2 365.8,1136.6 366.4,1136.6 367.1,1240.6 367.7,1151.0 368.3,1106.2 368.9,1114.8 369.5,1195.8 370.1,1124.8 370.7,1195.8 371.3,1240.6 371.9,1114.8 372.5,1124.8 373.2,1124.8 373.8,1195.8 374.4,1098.6 375.0,1124.8 375.6,1136.6 376.2,1114.8 376.8,1400.0 377.4,1151.0 378.0,1169.6 378.6,1240.6 379.3,1151.0 379.9,1136.6 380.5,1106.2 381.1,1151.0 381.7,1240.6 382.3,1169.6 382.9,1195.8 383.5,1151.0 384.1,1124.8 384.7,1195.8 385.4,1151.0 386.0,1169.6 386.6,1240.6 387.2,1195.8 387.8,1098.6 388.4,1195.8 389.0,1151.0 389.6,1169.6 390.2,1169.6 390.8,1151.0 391.5,1114.8 392.1,1136.6 392.7,1169.6 393.3,1114.8 393.9,1151.0 394.5,1151.0 395.1,1195.8 395.7,1151.0 396.3,1151.0 396.9,1136.6 397.6,1136.6 398.2,1195.8 398.8,1169.6 399.4,1195.8 400.0,1169.6 400.6,1240.6 401.2,1114.8 401.8,1124.8 402.4,1136.6 403.0,1106.2 403.7,1195.8 404.3,1151.0 404.9,1195.8 405.5,1136.6 406.1,1151.0 406.7,1114.8 407.3,1114.8 407.9,1169.6 408.5,1240.6 409.1,1114.8 409.8,1114.8 410.4,1106.2 411.0,1169.6 411.6,1240.6 412.2,1169.6 412.8,1124.8 413.4,1151.0 414.0,1195.8 414.6,1114.8 415.2,1151.0 415.9,1136.6 416.5,1195.8 417.1,1136.6 417.7,1195.8 418.3,1169.6 418.9,1136.6 419.5,1151.0 420.1,1195.8 420.7,1195.8 421.3,1240.6 422.0,1195.8 422.6,1124.8 423.2,1091.8 423.8,1195.8 424.4,1136.6 425.0,1240.6 425.6,1136.6 426.2,1151.0 426.8,1169.6 427.4,1114.8 428.1,1195.8 428.7,1240.6 429.3,1195.8 429.9,1195.8 430.5,1124.8 431.1,1169.6 431.7,1195.8 432.3,1195.8 432.9,1169.6 433.5,1195.8 434.2,1124.8 434.8,1124.8 435.4,1114.8 436.0,1151.0 436.6,1195.8 437.2,1136.6 437.8,1114.8 438.4,1136.6 439.0,1195.8 439.6,1124.8 440.3,1136.6 440.9,1169.6 441.5,1124.8 442.1,1136.6 442.7,1136.6 443.3,1169.6 443.9,1136.6 444.5,1195.8 445.1,1151.0 445.7,1114.8 446.4,1114.8 447.0,1195.8 447.6,1169.6 448.2,1400.0 448.8,1151.0 449.4,1136.6 450.0,1169.6 450.6,1151.0 451.2,1151.0 451.8,1195.8 452.5,1169.6 453.1,1124.8 453.7,1240.6 454.3,1136.6 454.9,1240.6 455.5,1195.8 456.1,1240.6 456.7,1400.0 457.3,1151.0 457.9,1195.8 458.6,1091.8 459.2,1151.0 459.8,1195.8 460.4,1136.6 461.0,1240.6 461.6,1195.8 462.2,1136.6 462.8,1240.6 463.4,1124.8 464.0,1169.6 464.7,1124.8 465.3,1195.8 465.9,1240.6 466.5,1169.6 467.1,1151.0 467.7,1124.8 468.3,1151.0 468.9,1124.8 469.5,1124.8 470.1,1151.0 470.8,1091.8 471.4,1195.8 472.0,1151.0 472.6,1169.6 473.2,1169.6 473.8,1169.6 474.4,1151.0 475.0,1136.6 475.6,1136.6 476.2,1240.6 476.9,1151.0 477.5,1169.6 478.1,1136.6 478.7,1169.6 479.3,1169.6 479.9,1151.0 480.5,1136.6 481.1,1169.6 481.7,1136.6 482.3,1136.6 483.0,1136.6 483.6,1195.8 484.2,1169.6 484.8,1151.0 485.4,1169.6 486.0,1124.8 486.6,1151.0 487.2,1114.8 487.8,1136.6 488.4,1151.0 489.1,1124.8 489.7,1240.6 490.3,1151.0 490.9,1136.6 491.5,1124.8 492.1,1151.0 492.7,1124.8 493.3,1169.6 493.9,1151.0 494.5,1240.6 495.2,1002.7 495.8,1240.6 496.4,1169.6 497.0,1151.0 497.6,1136.6 498.2,1195.8 498.8,1195.8 499.4,1124.8 500.0,1151.0 500.6,1106.2 501.3,1169.6 501.9,1169.6 502.5,1136.6 503.1,1240.6 503.7,1136.6 504.3,1169.6 504.9,1136.6 505.5,1169.6 506.1,1114.8 506.7,1240.6 507.4,1136.6 508.0,1124.8 508.6,1151.0 509.2,1169.6 509.8,1195.8 510.4,1169.6 511.0,1124.8 511.6,1106.2 512.2,1151.0 512.8,1195.8 513.5,1169.6 514.1,1169.6 514.7,1151.0 515.3,1169.6 515.9,1240.6 516.5,1195.8 517.1,1114.8 517.7,1124.8 518.3,1240.6 518.9,1169.6 519.6,1136.6 520.2,1136.6 520.8,1151.0 521.4,1169.6 522.0,1124.8 522.6,1169.6 523.2,1124.8 523.8,1136.6 524.4,1124.8 525.0,1240.6 525.7,1195.8 526.3,1151.0 526.9,1136.6 527.5,1114.8 528.1,1151.0 528.7,1195.8 529.3,1151.0 529.9,1114.8 530.5,1169.6 531.1,1169.6 531.8,1136.6 532.4,1136.6 533.0,1169.6 533.6,1136.6 534.2,1169.6 534.8,1084.1 535.4,1151.0 536.0,1151.0 536.6,1151.0 537.2,1124.8 537.9,1195.8 538.5,1136.6 539.1,1151.0 539.7,1124.8 540.3,1098.6 540.9,1195.8 541.5,1136.6 542.1,1169.6 542.7,1151.0 543.3,1151.0 544.0,1151.0 544.6,1195.8 545.2,1195.8 545.8,1240.6 546.4,1136.6 547.0,1240.6 547.6,1169.6 548.2,1136.6 548.8,1151.0 549.4,1136.6 550.1,1169.6 550.7,1240.6 551.3,1195.8 551.9,1151.0 552.5,1195.8 553.1,1195.8 553.7,1098.6 554.3,1151.0 554.9,1136.6 555.5,1151.0 556.2,1136.6 556.8,1136.6 557.4,1169.6 558.0,1136.6 558.6,1169.6 559.2,1169.6 559.8,1124.8 560.4,1169.6 561.0,1151.0 561.6,1169.6 562.3,1114.8 562.9,1114.8 563.5,1136.6 564.1,1195.8 564.7,1136.6 565.3,1240.6 565.9,1136.6 566.5,1240.6 567.1,1169.6 567.7,1240.6 568.4,1124.8 569.0,1136.6 569.6,1195.8 570.2,1195.8 570.8,1169.6 571.4,1195.8 572.0,1169.6 572.6,1124.8 573.2,1195.8 573.8,1169.6 574.5,1124.8 575.1,1195.8 575.7,1195.8 576.3,1169.6 576.9,1136.6 577.5,1151.0 578.1,1151.0 578.7,1169.6 579.3,1151.0 579.9,1106.2 580.6,1124.8 581.2,1106.2 581.8,1169.6 582.4,1169.6 583.0,1169.6 583.6,1151.0 584.2,1151.0 584.8,1124.8 585.4,1151.0 586.0,1195.8 586.7,1169.6 587.3,1136.6 587.9,1240.6 588.5,1240.6 589.1,1151.0 589.7,1136.6 590.3,1098.6 590.9,1240.6 591.5,1136.6 592.1,1136.6 592.8,1124.8 593.4,1169.6 594.0,1169.6 594.6,1151.0 595.2,1151.0 595.8,1124.8 596.4,1195.8 597.0,1169.6 597.6,1151.0 598.2,1136.6 598.9,1169.6 599.5,1240.6 600.1,1124.8 600.7,1106.2 601.3,1136.6 601.9,1195.8 602.5,1240.6 603.1,1124.8 603.7,1136.6 604.3,1169.6 605.0,1114.8 605.6,1169.6 606.2,1169.6 606.8,1169.6 607.4,1151.0 608.0,1136.6 608.6,1151.0 609.2,1169.6 609.8,1151.0 610.4,1169.6 611.1,996.1 611.7,1136.6 612.3,1151.0 612.9,1240.6 613.5,1151.0 614.1,1169.6 614.7,1114.8 615.3,1169.6 615.9,1151.0 616.5,1091.8 617.2,1169.6 617.8,1151.0 618.4,1240.6 619.0,1136.6 619.6,1136.6 620.2,1240.6 620.8,1136.6 621.4,1195.8 622.0,1169.6 622.6,1169.6 623.3,1151.0 623.9,1124.8 624.5,1114.8 625.1,1195.8 625.7,1124.8 626.3,1169.6 626.9,1169.6 627.5,1098.6 628.1,1136.6 628.7,1124.8 629.4,1136.6 630.0,1106.2 630.6,1169.6 631.2,1124.8 631.8,1195.8 632.4,1195.8 633.0,1195.8 633.6,1136.6 634.2,1136.6 634.8,1169.6 635.5,1136.6 636.1,1136.6 636.7,1151.0 637.3,1106.2 637.9,1151.0 638.5,1136.6 639.1,1195.8 639.7,1151.0 640.3,1169.6 640.9,1151.0 641.6,1195.8 642.2,1195.8 642.8,1151.0 643.4,1169.6 644.0,1151.0 644.6,1136.6 645.2,1169.6 645.8,1106.2 646.4,1114.8 647.0,1136.6 647.7,1240.6 648.3,1151.0 648.9,1114.8 649.5,1169.6 650.1,1240.6 650.7,1169.6 651.3,1195.8 651.9,1195.8 652.5,1106.2 653.1,1136.6 653.8,1124.8 654.4,1124.8 655.0,1195.8 655.6,1195.8 656.2,1124.8 656.8,1195.8 657.4,1240.6 658.0,1151.0 658.6,1151.0 659.2,1106.2 659.9,1195.8 660.5,1136.6 661.1,1151.0 661.7,1240.6 662.3,1169.6 662.9,1151.0 663.5,1195.8 664.1,1151.0 664.7,1124.8 665.3,1169.6 666.0,1169.6 666.6,1136.6 667.2,1136.6 667.8,1136.6 668.4,1151.0 669.0,1240.6 669.6,1151.0 670.2,1151.0 670.8,1136.6 671.4,1195.8 672.1,1169.6 672.7,1169.6 673.3,1124.8 673.9,1124.8 674.5,1136.6 675.1,1169.6 675.7,1098.6 676.3,1114.8 676.9,1151.0 677.5,1136.6 678.2,1106.2 678.8,1151.0 679.4,1169.6 680.0,1098.6 680.6,1151.0 681.2,1124.8 681.8,1114.8 682.4,1195.8 683.0,1240.6 683.6,1124.8 684.3,1151.0 684.9,1169.6 685.5,1169.6 686.1,1151.0 686.7,1151.0 687.3,1195.8 687.9,1195.8 688.5,1098.6 689.1,1124.8 689.7,1136.6 690.4,1136.6 691.0,1136.6 691.6,1136.6 692.2,1098.6 692.8,1136.6 693.4,1151.0 694.0,1136.6 694.6,1124.8 695.2,1136.6 695.8,1114.8 696.5,1124.8 697.1,1195.8 697.7,1169.6 698.3,1091.8 698.9,1151.0 699.5,1151.0 700.1,1106.2 700.7,1114.8 701.3,1151.0 701.9,1124.8 702.6,1124.8 703.2,1151.0 703.8,1151.0 704.4,1136.6 705.0,1151.0 705.6,1136.6 706.2,1169.6 706.5,1091.8 707.1,1091.8 707.7,1067.6 708.4,1098.0 709.0,1112.4 709.6,1121.0 710.2,1112.4 710.8,1104.8 711.4,1121.0 712.0,1112.4 712.6,1098.0 713.2,1104.8 713.8,1086.2 714.5,1142.8 715.1,1131.0 715.7,1067.6 716.3,1098.0 716.9,1076.2 717.5,1098.0 718.1,1104.8 718.7,1121.0 719.3,1091.8 719.9,1112.4 720.6,1121.0 721.2,1104.8 721.8,1131.0 722.4,1112.4 723.0,1098.0 723.6,1112.4 724.2,1142.8 724.8,1121.0 725.4,1112.4 726.0,1091.8 726.7,1091.8 727.3,1121.0 727.9,1131.0 728.5,1091.8 729.1,1098.0 729.7,1142.8 730.3,1098.0 730.9,1142.8 731.5,1112.4 732.1,1112.4 732.8,1112.4 733.4,1104.8 734.0,1112.4 734.6,1142.8 735.2,1131.0 735.8,1104.8 736.4,1091.8 737.0,1112.4 737.6,1121.0 738.2,1081.0 738.9,1091.8 739.5,1121.0 740.1,1142.8 740.7,1091.8 741.3,1121.0 741.9,1112.4 742.5,1104.8 743.1,1098.0 743.7,1104.8 744.3,1071.8 745.0,1081.0 745.6,1121.0 746.2,1121.0 746.8,1175.8 747.4,1142.8 748.0,1121.0 748.6,1086.2 749.2,1112.4 749.8,1121.0 750.4,1131.0 751.1,1098.0 751.7,1076.2 752.3,1071.8 752.9,1081.0 753.5,1086.2 754.1,1157.2 754.7,1121.0 755.3,1104.8 755.9,1121.0 756.5,1091.8 757.2,1086.2 757.8,1098.0 758.4,1121.0 759.0,1098.0 759.6,1086.2 760.2,1131.0 760.8,1112.4 761.4,1081.0 762.0,1091.8 762.6,1157.2 763.3,1157.2 763.9,1112.4 764.5,1091.8 765.1,1081.0 765.7,1091.8 766.3,1086.2 766.9,1076.2 767.5,1076.2 768.1,1076.2 768.7,1098.0 769.4,1112.4 770.0,1063.7 770.6,1098.0 771.2,1086.2 771.8,1050.0 772.4,1036.2 773.0,1020.8 773.6,1044.1 774.2,1022.8 774.8,1027.0 775.5,1038.7 776.1,1038.7 776.7,1041.4 777.3,1036.2 777.9,1018.9 778.5,1020.8 779.1,1056.5 779.7,1047.0 780.3,1029.2 780.9,1031.4 781.6,1053.2 782.2,1050.0 782.8,1041.4 783.4,1050.0 784.0,1033.8 784.6,1024.8 785.2,1029.2 785.8,1047.0 786.4,1038.7 787.0,1041.4 787.7,1033.8 788.3,1031.4 788.9,1027.0 789.5,1044.1 790.1,1036.2 790.7,1056.5 791.3,1036.2 791.9,1041.4 792.5,1031.4 793.1,1018.9 793.8,1018.9 794.4,1027.0 795.0,1041.4 795.6,1029.2 796.2,1022.8 796.8,1018.9 797.4,1010.0 798.0,1047.0 798.6,1031.4 799.2,1008.4 799.9,995.3 800.5,1010.0 801.1,1006.8 801.7,1015.2 802.3,1015.2 802.9,992.7 803.5,992.7 804.1,1020.8 804.7,1015.2 805.3,999.3 806.0,998.0 806.6,1015.2 807.2,1006.8 807.8,990.2 808.4,989.0 809.0,983.3 809.6,986.6 810.2,986.6 810.8,974.1 811.4,976.0 812.1,971.3 812.7,971.3 813.3,981.1 813.9,957.4 814.5,952.5 815.1,973.1 815.7,966.9 816.3,960.4 816.9,958.9 817.5,964.4 818.2,952.5 818.8,946.6 819.4,962.8 820.0,943.6 820.6,948.5 821.2,946.6 821.8,943.6 822.4,929.8 823.0,947.2 823.6,937.4 824.3,938.5 824.9,935.3 825.5,932.7 826.1,955.3 826.7,926.5 827.3,927.0 827.9,923.8 828.5,920.4 829.1,919.2 829.7,924.7 830.4,911.5 831.0,916.8 831.6,908.4 832.2,917.2 832.8,912.6 833.4,910.8 834.0,909.8 834.6,904.0 835.2,896.5 835.8,903.7 836.5,892.9 837.1,900.3 837.7,885.7 838.3,879.9 838.9,869.9 839.5,872.0 840.1,865.0 840.7,852.1 841.3,851.7 841.9,844.0 842.6,830.8 843.2,817.2 843.8,809.5 844.4,799.1 845.0,780.3 845.6,765.4 846.2,743.6 846.8,714.8 847.4,693.5 848.0,675.5 848.7,661.1 849.3,635.1 849.9,589.0 850.5,556.7 851.1,523.2 851.7,478.8 852.3,409.8 852.9,335.6 853.5,276.6 854.1,221.7 854.8,198.9 855.4,230.4 856.0,286.9 856.6,347.2 857.2,419.9 857.8,487.3 858.4,539.2 859.0,583.3 859.6,617.1 860.2,644.2 860.9,671.2 861.5,692.3 862.1,709.9 862.7,725.4 863.3,736.7 863.9,751.2 864.5,762.8 865.1,775.3 865.7,786.7 866.3,799.7 867.0,807.0 867.6,818.1 868.2,828.3 868.8,839.5 869.4,844.0 870.0,847.5 870.6,860.9 871.2,862.4 871.8,876.0 872.4,876.9 873.1,871.4 873.7,888.9 874.3,886.7 874.9,897.6 875.5,895.9 876.1,902.5 876.7,904.7 877.3,915.6 877.9,910.1 878.5,921.7 879.2,917.6 879.8,926.5 880.4,940.1 881.0,936.3 881.6,935.8 882.2,935.3 882.8,939.6 883.4,941.8 884.0,956.7 884.6,965.2 885.3,947.9 885.9,965.2 886.5,971.3 887.1,951.8 887.7,961.2 888.3,964.4 888.9,972.2 889.5,966.0 890.1,971.3 890.7,977.0 891.4,953.8 892.0,959.7 892.6,977.0 893.2,970.4 893.8,980.1 894.4,969.5 895.0,977.0 895.6,975.0 896.2,991.4 896.8,992.7 897.5,975.0 898.1,986.6 898.7,973.1 899.3,980.1 899.9,978.0 900.5,995.3 901.1,994.0 901.7,990.2 902.3,987.8 902.9,981.1 903.6,987.8 904.2,985.5 904.8,984.4 905.4,996.6 906.0,992.7 906.6,1000.8 907.2,996.6 907.8,1003.7 908.4,987.8 909.0,1015.2 909.7,1013.4 910.3,1005.2 910.9,1000.8 911.5,996.6 912.1,1005.2 912.7,1018.9 913.3,1006.8 913.9,1038.7 914.5,1022.8 915.1,998.0 915.8,1018.9 916.4,1024.8 917.0,1015.2 917.6,1024.8 918.2,1027.0 918.8,1015.2 919.4,1006.8 920.0,1017.0 920.6,1015.2 921.2,1018.9 921.9,1015.2 922.5,1010.0 923.1,1010.0 923.7,1029.2 924.3,1002.2 924.9,1018.9 925.5,1024.8 926.1,1017.0 926.7,1050.0 927.3,1013.4 928.0,1011.7 928.6,1006.8 929.2,1027.0 929.8,1041.4 930.4,1008.4 931.0,998.0 931.6,996.6 932.2,999.3 932.8,1018.9 933.4,1000.8 934.1,1011.7 934.7,1020.8 935.3,1002.2 935.9,999.3 936.5,996.6 937.1,996.6 937.7,979.0 938.3,999.3 938.9,983.3 939.5,975.0 940.2,981.1 940.8,989.0 941.4,975.0 942.0,970.4 942.6,962.0 943.2,962.8 943.8,971.3 944.4,966.9 945.0,975.0 945.6,979.0 946.3,974.1 946.9,975.0 947.5,983.3 948.1,965.2 948.7,963.6 949.3,974.1 949.9,965.2 950.5,973.1 951.1,971.3 951.7,963.6 952.4,956.0 953.0,953.8 953.6,959.7 954.2,948.5 954.8,951.8 955.4,951.1 956.0,948.5 956.6,964.4 957.2,951.8 957.8,955.3 958.5,957.4 959.1,961.2 959.7,958.9 960.3,946.0 960.9,962.0 961.5,959.7 962.1,956.0 962.7,947.2 963.3,948.5 963.9,952.5 964.6,947.9 965.2,950.5 965.8,943.6 966.4,944.8 967.0,944.2 967.6,951.1 968.2,944.2 968.8,941.8 969.4,953.8 970.0,946.0 970.7,935.8 971.3,937.4 971.9,952.5 972.5,937.9 973.1,947.2 973.7,937.9 974.3,930.2 974.9,938.5 975.5,942.4 976.1,939.0 976.8,935.3 977.4,949.2 978.0,932.2 978.6,949.2 979.2,937.9 979.8,944.2 980.4,936.8 981.0,935.8 981.6,936.3 982.2,946.6 982.9,938.5 983.5,938.5 984.1,943.6 984.7,936.3 985.3,943.0 985.9,942.4 986.5,937.9 987.1,946.0 987.7,938.5 988.3,943.6 989.0,931.7 989.6,934.7 990.2,926.5 990.8,936.8 991.4,931.2 992.0,936.3 992.6,940.7 993.2,943.6 993.8,934.7 994.4,933.7 995.1,935.8 995.7,931.7 996.3,934.7 996.9,930.7 997.5,936.3 998.1,934.2 998.7,929.8 999.3,942.4 999.9,934.2 1000.5,929.8 1001.2,932.7 1001.8,932.7 1002.4,929.8 1003.0,937.9 1003.6,934.2 1004.2,937.4 1004.8,937.9 1005.4,946.6 1006.0,934.7 1006.6,934.7 1007.3,932.7 1007.9,927.4 1008.5,938.5 1009.1,941.8 1009.7,941.3 1010.3,942.4 1010.9,948.5 1011.5,942.4 1012.1,939.6 1012.7,947.9 1013.4,950.5 1014.0,949.8 1014.6,943.6 1015.2,937.4 1015.8,943.6 1016.4,949.2 1017.0,954.5 1017.6,949.2 1018.2,940.1 1018.8,946.6 1019.5,949.2 1020.1,938.5 1020.7,940.7 1021.3,957.4 1021.9,949.8 1022.5,956.7 1023.1,951.1 1023.7,944.8 1024.3,954.5 1024.9,958.9 1025.6,956.7 1026.2,951.8 1026.8,962.8 1027.4,946.0 1028.0,958.9 1028.6,950.5 1029.2,963.6 1029.8,963.6 1030.4,974.1 1031.0,969.5 1031.7,969.5 1032.3,957.4 1032.9,995.3 1033.5,970.4 1034.1,966.0 1034.7,974.1 1035.3,956.7 1035.9,968.6 1036.5,980.1 1037.1,985.5 1037.8,969.5 1038.4,974.1 1039.0,971.3 1039.6,987.8 1040.2,976.0 1040.8,998.0 1041.4,999.3 1042.0,995.3 1042.6,984.4 1043.2,977.0 1043.9,982.2 1044.5,992.7 1045.1,990.2 1045.7,989.0 1046.3,1011.7 1046.9,996.6 1047.5,1005.2 1048.1,984.4 1048.7,1003.7 1049.3,1027.0 1050.0,999.3 1050.6,1017.0 1051.2,996.6 1051.8,1002.2 1052.4,1013.4 1053.0,1011.7 1053.6,1024.8 1054.2,1010.0 1054.8,1000.8 1055.4,1020.8 1056.1,1010.0 1056.7,1044.1 1057.3,1027.0 1057.9,1050.0 1058.5,1027.0 1059.1,1027.0 1059.7,1029.2 1060.3,1020.8 1060.9,1033.8 1061.5,1060.0 1062.2,1060.0 1062.8,1036.2 1063.4,1060.0 1064.0,1053.2 1064.6,1063.7 1065.2,1056.5 1065.8,1047.0 1066.4,1060.0 1067.0,1076.2 1067.6,1081.0 1068.3,1053.2 1068.9,1067.6 1069.5,1041.4 1070.1,1060.0 1070.7,1076.2 1071.3,1112.4 1071.9,1086.2 1072.5,1142.8 1073.1,1104.8 1073.7,1086.2 1074.4,1098.0 1075.0,1076.2 1075.6,1086.2 1076.2,1067.6 1076.8,1091.8 1077.4,1071.8 1078.0,1063.7 1078.6,1081.0 1079.2,1086.2 1079.8,1112.4 1080.5,1076.2 1081.1,1091.8 1081.7,1131.0 1082.3,1104.8 1082.9,1112.4 1083.5,1086.2 1084.1,1112.4 1084.7,1091.8 1085.3,1112.4 1085.9,1098.0 1086.6,1112.4 1087.2,1131.0 1087.8,1142.8 1088.4,1142.8 1089.0,1131.0 1089.6,1175.8 1090.2,1112.4 1090.8,1142.8 1091.4,1091.8 1092.0,1112.4 1092.7,1086.2 1093.3,1175.8 1093.9,1142.8 1094.5,1131.0 1095.1,1091.8 1095.7,1142.8 1096.3,1142.8 1096.9,1104.8 1097.5,1098.0 1098.1,1142.8 1098.8,1131.0 1099.4,1086.2 1100.0,1131.0 1100.6,1112.4 1101.2,1157.2 1101.8,1131.0 1102.4,1121.0 1103.0,1121.0 1103.6,1157.2 1104.2,1157.2 1104.9,1131.0 1105.5,993.1 1106.1,1169.6 1106.7,1114.8 1107.3,1240.6 1107.9,1098.6 1108.5,1124.8 1109.1,1114.8 1109.7,1114.8 1110.3,1124.8 1111.0,1136.6 1111.6,1169.6 1112.2,1136.6 1112.8,1136.6 1113.4,1136.6 1114.0,1136.6 1114.6,1106.2 1115.2,1114.8 1115.8,1151.0 1116.4,1151.0 1117.1,1195.8 1117.7,1098.6 1118.3,1091.8 1118.9,1106.2 1119.5,1114.8 1120.1,1136.6 1120.7,1136.6 1121.3,1091.8 1121.9,1169.6 1122.5,1098.6 1123.2,1106.2 1123.8,1151.0 1124.4,1106.2 1125.0,1169.6 1125.6,1136.6 1126.2,1124.8 1126.8,1124.8 1127.4,1136.6 1128.0,1151.0 1128.6,1124.8 1129.3,1151.0 1129.9,1151.0 1130.5,1091.8 1131.1,1151.0 1131.7,1136.6 1132.3,1151.0 1132.9,1114.8 1133.5,1151.0 1134.1,1136.6 1134.7,1091.8 1135.4,1240.6 1136.0,1169.6 1136.6,1114.8 1137.2,1106.2 1137.8,1114.8 1138.4,1136.6 1139.0,1136.6 1139.6,1106.2 1140.2,1151.0 1140.8,1169.6 1141.5,1114.8 1142.1,1195.8 1142.7,1151.0 1143.3,1124.8 1143.9,1136.6 1144.5,1240.6 1145.1,1169.6 1145.7,1195.8 1146.3,1136.6 1146.9,1124.8 1147.6,1136.6 1148.2,1151.0 1148.8,1136.6 1149.4,1106.2 1150.0,1124.8 1150.6,1124.8 1151.2,1124.8 1151.8,1151.0 1152.4,1151.0 1153.0,1151.0 1153.7,1124.8 1154.3,1151.0 1154.9,1169.6 1155.5,1124.8 1156.1,1169.6 1156.7,1169.6 1157.3,1195.8 1157.9,1169.6 1158.5,1151.0 1159.1,1136.6 1159.8,1195.8 1160.4,1195.8 1161.0,1124.8 1161.6,1136.6 1162.2,1151.0 1162.8,1151.0 1163.4,1169.6 1164.0,1169.6 1164.6,1106.2 1165.2,1151.0 1165.9,1169.6 1166.5,1195.8 1167.1,1151.0 1167.7,1124.8 1168.3,1124.8 1168.9,1124.8 1169.5,1169.6 1170.1,1240.6 1170.7,1195.8 1171.3,1098.6 1172.0,1106.2 1172.6,1124.8 1173.2,1151.0 1173.8,1114.8 1174.4,1124.8 1175.0,1169.6 1175.6,1169.6 1176.2,1151.0 1176.8,1169.6 1177.4,1240.6 1178.1,1240.6 1178.7,1169.6 1179.3,1114.8 1179.9,1169.6 1180.5,1195.8 1181.1,1195.8 1181.7,1169.6 1182.3,1169.6 1182.9,1240.6 1183.5,1195.8 1184.2,1151.0 1184.8,1195.8 1185.4,1240.6 1186.0,1136.6 1186.6,1240.6 1187.2,1240.6 1187.8,1195.8 1188.4,1151.0 1189.0,1151.0 1189.6,1124.8 1190.3,1151.0 1190.9,1106.2 1191.5,1195.8 1192.1,1124.8 1192.7,1151.0 1193.3,1195.8 1193.9,1169.6 1194.5,1195.8 1195.1,1169.6 1195.7,1136.6 1196.4,1195.8 1197.0,1151.0 1197.6,1151.0 1198.2,1169.6 1198.8,1124.8 1199.4,1114.8 1200.0,1195.8 1200.6,1136.6 1201.2,1136.6 1201.8,1195.8 1202.5,1136.6 1203.1,1136.6 1203.7,1151.0 1204.3,1195.8 1204.9,1114.8 1205.5,1195.8 1206.1,1240.6 1206.7,1195.8 1207.3,1195.8 1207.9,1169.6 1208.6,1124.8 1209.2,1195.8 1209.8,1151.0 1210.4,1169.6 1211.0,1136.6 1211.6,1195.8 1212.2,1169.6 1212.8,1136.6 1213.4,1169.6 1214.0,1151.0 1214.7,1195.8 1215.3,1124.8 1215.9,1151.0 1216.5,1195.8 1217.1,1136.6 1217.7,1151.0 1218.3,1106.2 1218.9,1136.6 1219.5,1151.0 1220.1,1136.6 1220.8,1195.8 1221.4,1151.0 1222.0,1169.6 1222.6,1240.6 1223.2,1084.1 1223.8,1240.6 1224.4,1151.0 1225.0,1195.8 1225.6,1151.0 1226.2,1169.6 1226.9,1098.6 1227.5,1169.6 1228.1,1240.6 1228.7,1114.8 1229.3,1169.6 1229.9,1169.6 1230.5,1106.2 1231.1,1195.8 1231.7,1240.6 1232.3,1136.6 1233.0,1195.8 1233.6,1151.0 1234.2,1114.8 1234.8,1169.6 1235.4,1151.0 1236.0,1195.8 1236.6,1151.0 1237.2,1169.6 1237.8,1136.6 1238.4,1195.8 1239.1,1124.8 1239.7,1169.6 1240.3,1136.6 1240.9,1169.6 1241.5,1151.0 1242.1,1124.8 1242.7,1151.0 1243.3,1240.6 1243.9,1169.6 1244.5,1240.6 1245.2,1151.0 1245.8,1151.0 1246.4,1151.0 1247.0,1151.0 1247.6,1136.6 1248.2,1124.8 1248.8,1169.6 1249.4,1195.8 1250.0,1124.8 1250.6,1136.6 1251.3,1169.6 1251.9,1106.2 1252.5,1169.6 1253.1,1151.0 1253.7,1136.6 1254.3,1136.6 1254.9,1195.8 1255.5,1195.8 1256.1,1124.8 1256.7,1169.6 1257.4,1136.6 1258.0,1195.8 1258.6,1136.6 1259.2,1400.0 1259.8,1169.6 1260.4,1195.8 1261.0,1136.6 1261.6,1151.0 1262.2,1169.6 1262.8,1114.8 1263.5,1124.8 1264.1,1151.0 1264.7,1136.6 1265.3,1195.8 1265.9,1169.6 1266.5,1195.8 1267.1,1151.0 1267.7,1195.8 1268.3,1106.2 1268.9,1169.6 1269.6,1240.6 1270.2,1240.6 1270.8,1151.0 1271.4,1169.6 1272.0,1169.6 1272.6,1136.6 1273.2,1169.6 1273.8,1151.0 1274.4,1151.0 1275.0,1240.6 1275.7,1098.6 1276.3,1169.6 1276.9,1151.0 1277.5,1195.8 1278.1,1136.6 1278.7,1240.6 1279.3,1151.0 1279.9,1151.0 1280.5,1151.0 1281.1,1124.8 1281.8,1240.6 1282.4,1114.8 1283.0,1195.8 1283.6,1136.6 1284.2,1151.0 1284.8,1136.6 1285.4,1151.0 1286.0,1151.0 1286.6,1151.0 1287.2,1124.8 1287.9,1136.6 1288.5,1151.0 1289.1,1169.6 1289.7,1195.8 1290.3,1169.6 1290.9,1195.8 1291.5,1400.0 1292.1,1195.8 1292.7,1169.6 1293.3,1240.6 1294.0,1124.8 1294.6,1136.6 1295.2,1106.2 1295.8,1151.0 1296.4,1169.6 1297.0,1169.6 1297.6,1240.6 1298.2,1136.6 1298.8,1169.6 1299.4,1195.8 1300.1,1151.0 1300.7,1240.6 1301.3,1240.6 1301.9,1169.6 1302.5,1195.8 1303.1,1169.6 1303.7,1169.6 1304.3,1136.6 1304.9,1124.8 1305.5,1151.0 1306.2,1136.6 1306.8,1169.6 1307.4,1169.6 1308.0,1169.6 1308.6,1240.6 1309.2,1400.0 1309.8,1240.6 1310.4,1195.8 1311.0,1136.6 1311.6,1136.6 1312.3,1151.0 1312.9,1240.6 1313.5,1136.6 1314.1,1169.6 1314.7,1151.0 1315.3,1136.6 1315.9,1151.0 1316.5,1240.6 1317.1,1195.8 1317.7,1195.8 1318.4,1098.6 1319.0,1195.8 1319.6,1169.6 1320.2,1124.8 1320.8,1151.0 1321.4,1169.6 1322.0,1136.6 1322.6,1151.0 1323.2,1169.6 1323.8,1195.8 1324.5,1136.6 1325.1,1136.6 1325.7,1136.6 1326.3,1136.6 1326.9,1169.6 1327.5,1151.0 1328.1,1169.6 1328.7,1169.6 1329.3,1169.6 1329.9,1106.2 1330.6,1124.8 1331.2,1151.0 1331.8,1240.6 1332.4,1136.6 1333.0,1195.8 1333.6,1240.6 1334.2,1240.6 1334.8,1151.0 1335.4,1195.8 1336.0,1136.6 1336.7,1106.2 1337.3,1169.6 1337.9,1240.6 1338.5,1195.8 1339.1,1136.6 1339.7,1136.6 1340.3,1151.0 1340.9,1195.8 1341.5,1136.6 1342.1,1169.6 1342.8,1240.6 1343.4,1169.6 1344.0,1240.6 1344.6,1136.6 1345.2,1169.6 1345.8,1195.8 1346.4,1195.8 1347.0,1098.6 1347.6,1240.6 1348.2,1032.1 1348.9,1151.0 1349.5,1169.6 1350.1,1106.2 1350.7,1124.8 1351.3,1136.6 1351.9,1195.8 1352.5,1136.6 1353.1,1151.0 1353.7,1195.8 1354.3,1169.6 1355.0,1240.6 1355.6,1240.6 1356.2,1136.6 1356.8,1151.0 1357.4,1195.8 1358.0,1240.6 1358.6,1169.6 1359.2,1136.6 1359.8,1240.6 1360.4,1195.8 1361.1,1169.6 1361.7,1169.6 1362.3,1151.0 1362.9,1240.6 1363.5,1240.6 1364.1,1151.0 1364.7,1195.8 1365.3,1136.6 1365.9,1151.0 1366.5,1169.6 1367.2,1169.6 1367.8,1169.6 1368.4,1169.6 1369.0,1195.8 1369.6,1240.6 1370.2,1151.0 1370.8,1136.6 1371.4,1114.8 1372.0,1124.8 1372.6,1240.6 1373.3,1169.6 1373.9,1124.8 1374.5,1195.8 1375.1,1151.0 1375.7,1151.0 1376.3,1240.6 1376.9,1151.0 1377.5,1098.6 1378.1,1114.8 1378.7,1124.8 1379.4,1195.8 1380.0,1151.0 1380.6,1124.8 1381.2,1151.0 1381.8,1169.6 1382.4,1240.6 1383.0,1151.0 1383.6,1106.2 1384.2,1240.6 1384.8,1124.8 1385.5,1151.0 1386.1,1136.6 1386.7,1240.6 1387.3,1195.8 1387.9,1195.8 1388.5,1195.8 1389.1,1151.0 1389.7,1136.6 1390.3,1169.6 1390.9,1124.8 1391.6,1151.0 1392.2,1240.6 1392.8,1151.0 1393.4,1151.0 1394.0,1195.8 1394.6,1169.6 1395.2,1136.6 1395.8,1240.6 1396.4,1151.0 1397.0,1091.8 1397.7,1151.0 1398.3,1124.8 1398.9,1151.0 1399.5,1169.6 1400.1,1169.6 1400.7,1195.8 1401.3,1151.0 1401.9,1151.0 1402.5,1151.0 1403.1,1169.6 1403.8,1169.6 1404.4,1195.8 1405.0,1151.0 1405.6,1151.0 1406.2,1169.6 1406.8,1151.0 1407.4,1169.6 1408.0,1151.0 1408.6,1114.8 1409.2,1151.0 1409.9,1151.0 1410.5,1151.0 1411.1,1240.6 1411.7,1136.6 1412.3,1195.8 1412.9,1169.6 1413.5,1136.6 1414.1,1240.6 1414.7,1240.6 1415.3,1195.8 1416.0,1240.6 1416.6,1151.0 1417.2,1151.0 1417.8,1124.8 1418.4,1136.6 1419.0,1169.6 1419.6,1169.6 1420.2,1151.0 1420.8,1136.6 1421.4,1195.8 1422.1,1151.0 1422.7,1136.6 1423.3,1136.6 1423.9,1136.6 1424.5,1124.8 1425.1,1114.8 1425.7,1195.8 1426.3,1124.8 1426.9,1124.8 1427.5,1169.6 1428.2,1124.8 1428.8,1151.0 1429.4,1195.8 1430.0,1151.0 1430.6,1136.6 1431.2,1136.6 1431.8,1151.0 1432.4,1240.6 1433.0,1195.8 1433.6,1151.0 1434.3,1169.6 1434.9,1151.0 1435.5,1195.8 1436.1,1124.8 1436.7,1151.0 1437.3,1151.0 1437.9,1136.6 1438.5,1169.6 1439.1,1195.8 1439.7,1169.6 1440.4,1136.6 1441.0,1195.8 1441.6,1136.6 1442.2,1136.6 1442.8,1169.6 1443.4,1136.6 1444.0,1169.6 1444.6,1151.0 1445.2,1106.2 1445.8,1400.0 1446.5,1195.8 1447.1,1195.8 1447.7,1169.6 1448.3,1169.6 1448.9,1114.8 1449.5,1169.6 1450.1,1195.8 1450.7,1240.6 1451.3,1240.6 1451.9,1195.8 1452.6,1169.6 1453.2,1151.0 1453.8,1240.6 1454.4,1136.6 1455.0,1169.6 1455.6,1169.6 1456.2,1020.1 1456.8,1195.8 1457.4,1136.6 1458.0,1240.6 1458.7,1195.8 1459.3,1169.6 1459.9,1169.6 1460.5,1136.6 1461.1,1114.8 1461.7,1151.0 1462.3,1195.8 1462.9,1195.8 1463.5,1195.8 1464.1,1195.8 1464.8,1169.6 1465.4,1240.6 1466.0,1169.6 1466.6,1151.0 1467.2,1114.8 1467.8,1136.6 1468.4,1195.8 1469.0,1151.0 1469.6,1195.8 1470.2,1169.6 1470.9,1136.6 1471.5,1169.6 1472.1,1169.6 1472.7,1136.6 1473.3,1136.6 1473.9,1195.8 1474.5,1195.8 1475.1,1195.8 1475.7,1136.6 1476.3,1240.6 1477.0,1169.6 1477.6,1240.6 1478.2,1195.8 1478.8,1169.6 1479.4,1136.6 1480.0,1151.0 1480.6,1240.6 1481.2,1136.6 1481.8,1136.6 1482.4,1169.6 1483.1,1124.8 1483.7,1195.8 1484.3,1151.0 1484.9,1240.6 1485.5,1114.8 1486.1,1136.6 1486.7,1151.0 1487.3,1151.0 1487.9,1169.6 1488.5,1169.6 1489.2,1124.8 1489.8,1136.6 1490.4,1169.6 1491.0,1195.8 1491.6,1136.6 1492.2,1136.6 1492.8,1136.6 1493.4,1169.6 1494.0,1195.8 1494.6,1169.6 1495.3,1169.6 1495.9,1106.2 1496.5,1240.6 1497.1,1151.0 1497.7,1195.8 1498.3,1169.6 1498.9,1195.8 1499.5,1240.6 1500.1,1124.8 1500.7,1195.8 1501.4,1114.8 1502.0,1136.6 1502.6,1195.8 1503.2,1124.8 1503.8,1195.8 1504.4,1169.6 1505.0,1169.6 1505.6,1195.8 1506.2,1136.6 1506.8,1195.8 1507.5,1136.6 1508.1,1151.0 1508.7,1136.6 1509.3,1114.8 1509.9,1195.8 1510.5,1151.0 1511.1,1151.0 1511.7,1136.6 1512.3,1106.2 1512.9,1106.2 1513.6,1195.8 1514.2,1195.8 1514.8,1240.6 1515.4,1151.0 1516.0,1169.6 1516.6,1124.8 1517.2,1114.8 1517.8,1151.0 1518.4,1169.6 1519.0,1151.0 1519.7,1136.6 1520.3,1114.8 1520.9,1240.6 1521.5,1240.6 1522.1,1151.0 1522.7,1240.6 1523.3,1136.6 1523.9,1195.8 1524.5,1124.8 1525.1,1240.6 1525.8,1195.8 1526.4,1169.6 1527.0,1124.8 1527.6,1169.6 1528.2,1136.6 1528.8,1151.0 1529.4,1240.6 1530.0,1151.0 1530.6,1195.8 1531.2,1240.6 1531.9,1151.0 1532.5,1136.6 1533.1,1151.0 1533.7,1136.6 1534.3,1136.6 1534.9,1240.6 1535.5,1169.6 1536.1,1169.6 1536.7,1124.8 1537.3,1195.8 1538.0,1195.8 1538.6,1151.0 1539.2,1114.8 1539.8,1098.6 1540.4,1136.6 1541.0,1124.8 1541.6,1124.8 1542.2,1124.8 1542.8,1169.6 1543.4,1169.6 1544.1,1151.0 1544.7,1400.0 1545.3,1195.8 1545.9,1169.6 1546.5,1240.6 1547.1,1136.6 1547.7,1151.0 1548.3,1195.8 1548.9,1151.0 1549.5,1136.6 1550.2,1195.8 1550.8,1195.8 1551.4,1195.8 1552.0,1114.8 1552.6,1114.8 1553.2,1240.6 1553.8,1169.6 1554.4,1169.6 1555.0,1169.6 1555.6,1136.6 1556.3,1240.6 1556.9,1195.8 1557.5,1169.6 1558.1,1136.6 1558.7,1136.6 1559.3,1195.8 1559.9,1151.0 1560.5,1240.6 1561.1,1151.0 1561.7,1124.8 1562.4,1124.8 1563.0,1169.6 1563.6,1195.8 1564.2,1151.0 1564.8,1114.8 1565.4,1195.8 1566.0,1195.8 1566.6,1195.8 1567.2,1169.6 1567.8,1240.6 1568.5,1151.0 1569.1,1124.8 1569.7,1151.0 1570.3,1114.8 1570.9,1169.6 1571.5,1098.6 1572.1,1151.0 1572.7,1169.6 1573.3,1195.8 1573.9,1240.6 1574.6,1195.8 1575.2,1169.6 1575.8,1136.6 1576.4,1195.8 1577.0,1136.6 1577.6,1151.0 1578.2,1169.6 1578.8,1169.6 1579.4,1124.8 1580.0,1151.0 1580.7,1151.0 1581.3,1136.6 1581.9,1136.6 1582.5,1151.0 1583.1,1136.6 1583.7,1136.6 1584.3,1124.8 1584.9,1114.8 1585.5,1114.8 1586.1,1136.6 1586.8,1169.6 1587.4,1136.6 1588.0,1240.6 1588.6,1195.8 1589.2,1106.2 1589.8,1169.6 1590.4,1195.8 1591.0,1151.0 1591.6,1114.8 1592.2,1114.8 1592.9,1169.6 1593.5,1136.6 1594.1,1195.8 1594.7,1124.8 1595.3,1169.6 1595.9,1151.0 1596.5,1240.6 1597.1,1195.8 1597.7,1400.0 1598.3,1169.6 1599.0,1136.6 1599.6,1240.6 1600.2,1124.8 1600.8,1151.0 1601.4,1169.6 1602.0,1151.0 1602.6,1151.0 1603.2,1169.6 1603.8,1136.6 1604.4,1169.6 1605.1,1114.8 1605.7,1195.8 1606.3,1136.6 1606.9,1136.6 1607.5,1195.8 1608.1,1124.8 1608.7,1136.6 1609.3,1169.6 1609.9,1124.8 1610.5,1114.8 1611.2,1240.6 1611.8,1136.6 1612.4,1240.6 1613.0,1151.0 1613.6,1151.0 1614.2,1169.6 1614.8,1195.8 1615.4,1136.6 1616.0,1169.6 1616.6,1151.0 1617.3,1124.8 1617.9,1169.6 1618.5,1169.6 1619.1,1169.6 1619.7,1169.6 1620.3,1151.0 1620.9,1169.6 1621.5,1169.6 1622.1,1169.6 1622.7,1169.6 1623.4,1240.6 1624.0,1136.6 1624.6,1240.6 1625.2,1151.0 1625.8,1151.0 1626.4,1151.0 1627.0,1240.6 1627.6,1169.6 1628.2,1124.8 1628.8,1114.8 1629.5,1151.0 1630.1,1151.0 1630.7,1124.8 1631.3,1106.2 1631.9,1151.0 1632.5,1151.0 1633.1,1169.6 1633.7,1098.6 1634.3,1151.0 1634.9,1169.6 1635.6,1136.6 1636.2,1124.8 1636.8,1151.0 1637.4,1136.6 1638.0,1124.8 1638.6,1136.6 1639.2,1169.6 1639.8,1151.0 1640.4,1151.0 1641.0,1151.0 1641.7,1089.1 1642.3,1151.0 1642.9,1136.6 1643.5,1195.8 1644.1,1151.0 1644.7,1124.8 1645.3,1169.6 1645.9,1195.8 1646.5,1114.8 1647.1,1151.0 1647.8,1124.8 1648.4,1240.6 1649.0,1136.6 1649.6,1169.6 1650.2,1114.8 1650.8,1136.6 1651.4,1169.6 1652.0,1124.8 1652.6,1085.6 1653.2,1195.8 1653.9,1169.6 1654.5,1169.6 1655.1,1124.8 1655.7,1151.0 1656.3,1124.8 1656.9,1169.6 1657.5,1151.0 1658.1,1151.0 1658.7,1169.6 1659.3,1124.8 1660.0,1195.8 1660.6,1240.6 1661.2,1136.6 1661.8,1151.0 1662.4,1169.6 1663.0,1085.6 1663.6,1169.6 1664.2,1124.8 1664.8,1136.6 1665.4,1124.8 1666.1,1114.8 1666.7,1240.6 1667.3,1124.8 1667.9,1098.6 1668.5,1151.0 1669.1,1169.6 1669.7,1114.8 1670.3,1124.8 1670.9,1106.2 1671.5,1106.2 1672.2,1169.6 1672.8,1136.6 1673.4,1124.8 1674.0,1151.0 1674.6,1169.6 1675.2,1151.0 1675.8,1169.6 1676.4,1195.8 1677.0,1151.0 1677.6,1151.0 1678.3,1195.8 1678.9,1240.6 1679.5,1124.8 1680.1,1151.0 1680.7,1169.6"/>
</g>
<text x="156.0" y="1370.6" font-size="77" text-anchor="middle">20</text>
<text x="461.0" y="1370.6" font-size="77" text-anchor="middle">30</text>
<text x="766.0" y="1370.6" font-size="77" text-anchor="middle">40</text>
<text x="1071.0" y="1370.6" font-size="77" text-anchor="middle">50</text>
<text x="1376.0" y="1370.6" font-size="77" text-anchor="middle">60</text>
<text x="1681.0" y="1370.6" font-size="77" text-anchor="middle">70</text>
<text transform="translate(82.8,917.9) rotate(-90)" font-size="88">Intensity (a.u.)</text>
<text x="744.6" y="1512.9" font-size="88">2</text>
<text class="ser" transform="translate(794.6,1512.2) scale(1.09,0.967)" font-size="88">θ</text>
<text x="864.1" y="1512.9" font-size="88">(deg.)</text>
<text x="727.1" y="126.3" font-size="58">MgO (002)</text>
<text transform="translate(301.4,788) rotate(-90)" font-size="57.5" fill="#8c46b4">FePt-L10 (001)</text>
<text transform="translate(996.9,572) rotate(-90)" font-size="57.5" fill="#ff0000">Pt (200)</text>
<text transform="translate(1084.3,756.4) rotate(-90)" font-size="57.5" fill="#8c46b4">FePt-L10 (002)</text>
<g stroke="#8c46b4" fill="#8c46b4" stroke-width="6.1" stroke-linecap="round" stroke-linejoin="round"><path d="M278.1,833.8 V930.4"/><path d="M267.8,930.4 H288.4 L278.1,961.2 Z"/></g>
<g stroke="#ff0000" fill="#ff0000" stroke-width="6.1" stroke-linecap="round" stroke-linejoin="round"><path d="M978.5,593.2 V729.6"/><path d="M968.2,729.6 H988.8 L978.5,758.2 Z"/></g>
<g stroke="#8c46b4" fill="#8c46b4" stroke-width="6.1" stroke-linecap="round" stroke-linejoin="round"><path d="M1052.3,775.3 V864.8"/><path d="M1042.0,864.8 H1062.6 L1052.3,894.0 Z"/></g>
<rect x="1374.7" y="92.8" width="255.6" height="168.1" fill="#fff" stroke="#000" stroke-width="1.6"/>
<path d="M1383.8,137.6 H1526.1" stroke="#00a400" stroke-width="6.6" stroke-linecap="round"/>
<path d="M1383.8,216.1 H1526.1" stroke="#0095ca" stroke-width="6.6" stroke-linecap="round"/>
<text x="1543.6" y="160" font-size="65.5">S1</text>
<text x="1543.6" y="238.6" font-size="65.5">S2</text>
</svg></body></html>
